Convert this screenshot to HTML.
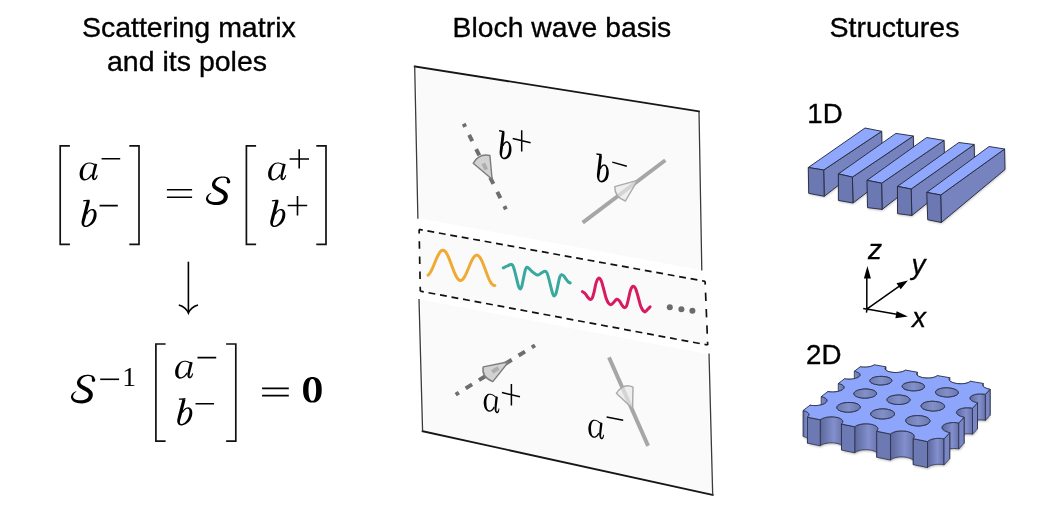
<!DOCTYPE html>
<html><head><meta charset="utf-8"><style>
html,body{margin:0;padding:0;background:#fff;}
body{width:1048px;height:510px;overflow:hidden;position:relative;}
svg{position:absolute;left:0;top:0;}
.t{font-family:"Liberation Sans",sans-serif;}
.m{font-family:"Liberation Serif",serif;font-style:italic;}
</style></head><body>
<svg width="1048" height="510" viewBox="0 0 1048 510" style="will-change:transform">
<defs>
<filter id="blur1" x="-10%" y="-10%" width="120%" height="130%"><feGaussianBlur stdDeviation="1.1"/></filter>
<linearGradient id="gw" x1="0" x2="1" y1="0" y2="0">
 <stop offset="0" stop-color="#5c679c"/><stop offset="0.6" stop-color="#8290cd"/><stop offset="1" stop-color="#6873ac"/>
</linearGradient>
<linearGradient id="gh" x1="0" x2="1" y1="0" y2="0">
 <stop offset="0" stop-color="#6d79b0"/><stop offset="0.5" stop-color="#8190c8"/><stop offset="1" stop-color="#6d79b0"/>
</linearGradient>
</defs>

<g class="t" font-size="28.5" fill="#000" stroke="#000" stroke-width="0.35">
<text x="81.9" y="36.6">Scattering matrix</text>
<text x="107" y="70.5">and its poles</text>
<text x="452.6" y="36.6" font-size="28.3">Bloch wave basis</text>
<text x="829.5" y="36.6">Structures</text>
</g>
<g class="t" font-size="27.7" fill="#000" stroke="#000" stroke-width="0.35"><text x="807.3" y="123.3">1D</text><text x="806" y="364.3">2D</text></g>
<path d="M69.9,145.8 H60.2 V244.4 H69.9" stroke="#111" stroke-width="1.7" fill="none"/>
<path d="M129.3,145.8 H139 V244.4 H129.3" stroke="#111" stroke-width="1.7" fill="none"/>
<path d="M256.1,145.8 H246.4 V244.4 H256.1" stroke="#111" stroke-width="1.7" fill="none"/>
<path d="M316.3,145.8 H326 V244.4 H316.3" stroke="#111" stroke-width="1.7" fill="none"/>
<g fill="#000">
<path d="M94.69,164.01 L94.52,163.95 L94.31,163.85 L94.06,163.73 L93.76,163.59 L93.45,163.45 L93.11,163.29 L92.76,163.15 L92.40,163.01 L92.04,162.90 L91.69,162.81 L91.37,162.74 L91.04,162.68 L90.70,162.63 L90.36,162.58 L90.02,162.56 L89.67,162.54 L89.31,162.54 L88.96,162.56 L88.61,162.60 L88.27,162.66 L87.92,162.71 L87.58,162.77 L87.22,162.84 L86.87,162.93 L86.51,163.04 L86.15,163.18 L85.78,163.34 L85.43,163.53 L85.07,163.75 L84.72,164.00 L84.36,164.26 L84.00,164.55 L83.64,164.88 L83.28,165.22 L82.93,165.59 L82.59,165.98 L82.27,166.38 L81.95,166.80 L81.65,167.23 L81.38,167.66 L81.13,168.12 L80.90,168.60 L80.69,169.09 L80.49,169.59 L80.31,170.10 L80.15,170.61 L80.00,171.12 L79.87,171.63 L79.76,172.13 L79.66,172.63 L79.63,173.13 L79.61,173.64 L79.62,174.14 L79.64,174.65 L79.68,175.14 L79.74,175.63 L79.81,176.11 L79.91,176.57 L80.02,177.02 L80.15,177.45 L80.36,177.84 L80.58,178.21 L80.82,178.56 L81.09,178.87 L81.36,179.16 L81.66,179.42 L81.96,179.65 L82.28,179.86 L82.60,180.03 L82.94,180.16 L83.28,180.29 L83.63,180.38 L83.98,180.43 L84.33,180.45 L84.68,180.45 L85.03,180.42 L85.37,180.37 L85.70,180.29 L86.03,180.20 L86.35,180.08 L86.69,179.99 L87.02,179.87 L87.35,179.73 L87.68,179.56 L88.01,179.38 L88.34,179.18 L88.66,178.97 L88.97,178.75 L89.28,178.52 L89.58,178.28 L89.94,177.97 L90.30,177.62 L90.65,177.24 L91.00,176.84 L91.33,176.46 L91.64,176.10 L91.91,175.77 L92.13,175.51 L92.31,175.32 L91.12,174.35 L90.96,174.57 L90.75,174.86 L90.50,175.20 L90.22,175.57 L89.93,175.96 L89.62,176.35 L89.32,176.71 L89.02,177.04 L88.74,177.32 L88.49,177.54 L88.22,177.75 L87.94,177.96 L87.67,178.16 L87.39,178.34 L87.11,178.51 L86.84,178.66 L86.57,178.79 L86.31,178.89 L86.05,178.98 L85.79,179.00 L85.53,179.00 L85.27,178.99 L85.02,178.96 L84.77,178.92 L84.55,178.86 L84.34,178.78 L84.15,178.70 L83.99,178.60 L83.86,178.49 L83.74,178.35 L83.63,178.19 L83.52,178.02 L83.42,177.84 L83.33,177.64 L83.26,177.43 L83.19,177.22 L83.14,176.99 L83.10,176.76 L83.07,176.51 L83.01,176.26 L82.96,175.96 L82.91,175.64 L82.88,175.29 L82.86,174.91 L82.85,174.53 L82.86,174.14 L82.88,173.74 L82.91,173.35 L82.96,172.97 L82.97,172.57 L82.99,172.15 L83.03,171.72 L83.08,171.28 L83.15,170.84 L83.24,170.40 L83.33,169.96 L83.44,169.54 L83.56,169.13 L83.69,168.74 L83.82,168.35 L83.97,167.95 L84.14,167.54 L84.33,167.14 L84.54,166.75 L84.75,166.37 L84.97,166.00 L85.20,165.66 L85.42,165.34 L85.65,165.06 L85.89,164.83 L86.14,164.62 L86.40,164.43 L86.67,164.26 L86.95,164.10 L87.24,163.96 L87.53,163.84 L87.83,163.73 L88.13,163.63 L88.43,163.54 L88.72,163.50 L89.02,163.48 L89.33,163.47 L89.63,163.48 L89.94,163.51 L90.24,163.55 L90.55,163.60 L90.85,163.66 L91.15,163.72 L91.43,163.80 L91.70,163.90 L91.99,164.03 L92.29,164.18 L92.59,164.35 L92.88,164.52 L93.17,164.69 L93.43,164.86 L93.67,165.02 L93.88,165.15 L94.05,165.26Z"/><path d="M94.60,163.56 L94.54,163.78 L94.47,164.07 L94.39,164.42 L94.30,164.80 L94.20,165.21 L94.10,165.65 L93.99,166.09 L93.88,166.54 L93.78,166.97 L93.68,167.37 L93.59,167.77 L93.49,168.17 L93.40,168.58 L93.30,168.99 L93.20,169.41 L93.10,169.83 L93.00,170.25 L92.90,170.66 L92.81,171.08 L92.72,171.48 L92.63,171.88 L92.54,172.28 L92.45,172.69 L92.36,173.09 L92.27,173.50 L92.19,173.90 L92.11,174.30 L92.05,174.69 L91.99,175.08 L91.94,175.45 L91.92,175.80 L91.90,176.13 L91.90,176.47 L91.90,176.79 L91.91,177.11 L91.93,177.43 L91.96,177.73 L92.01,178.03 L92.08,178.32 L92.17,178.60 L92.28,178.87 L92.42,179.12 L92.58,179.35 L92.77,179.56 L92.97,179.74 L93.20,179.90 L93.45,180.03 L93.72,180.12 L94.01,180.16 L94.31,180.15 L94.58,180.10 L94.83,180.01 L95.07,179.90 L95.30,179.77 L95.52,179.61 L95.74,179.43 L95.95,179.23 L96.15,179.02 L96.34,178.78 L96.52,178.52 L96.71,178.18 L96.88,177.80 L97.05,177.39 L97.20,176.96 L97.35,176.54 L97.48,176.13 L97.59,175.77 L97.68,175.48 L97.74,175.26 L96.91,174.93 L96.80,175.14 L96.67,175.43 L96.52,175.78 L96.35,176.16 L96.18,176.55 L96.00,176.93 L95.81,177.28 L95.64,177.57 L95.48,177.79 L95.34,177.93 L95.19,178.07 L95.03,178.19 L94.87,178.30 L94.72,178.38 L94.57,178.45 L94.44,178.49 L94.33,178.51 L94.25,178.51 L94.22,178.50 L94.23,178.48 L94.24,178.46 L94.24,178.44 L94.24,178.41 L94.22,178.38 L94.20,178.33 L94.17,178.26 L94.15,178.19 L94.13,178.10 L94.12,178.01 L94.11,177.90 L94.11,177.75 L94.11,177.58 L94.12,177.37 L94.14,177.14 L94.16,176.90 L94.20,176.63 L94.24,176.35 L94.29,176.06 L94.34,175.76 L94.39,175.45 L94.46,175.13 L94.53,174.79 L94.61,174.43 L94.70,174.05 L94.80,173.66 L94.90,173.27 L95.00,172.87 L95.10,172.47 L95.20,172.07 L95.30,171.68 L95.40,171.28 L95.51,170.88 L95.62,170.47 L95.73,170.06 L95.84,169.65 L95.95,169.23 L96.06,168.82 L96.17,168.42 L96.28,168.01 L96.38,167.60 L96.49,167.17 L96.59,166.72 L96.70,166.27 L96.81,165.84 L96.90,165.42 L97.00,165.04 L97.08,164.69 L97.15,164.40 L97.20,164.18Z"/><path d="M83.24,201.47 L85.16,201.37 L87.80,201.24 L89.71,201.15 L89.62,199.65 L87.71,199.80 L85.07,199.99 L83.16,200.13Z"/><path d="M86.88,200.56 L86.79,200.90 L86.67,201.33 L86.53,201.85 L86.37,202.42 L86.20,203.04 L86.03,203.69 L85.85,204.36 L85.67,205.02 L85.50,205.67 L85.33,206.27 L85.18,206.87 L85.03,207.46 L84.88,208.07 L84.72,208.67 L84.57,209.28 L84.41,209.89 L84.26,210.49 L84.10,211.09 L83.95,211.69 L83.80,212.27 L83.65,212.86 L83.50,213.45 L83.34,214.04 L83.18,214.64 L83.03,215.22 L82.88,215.80 L82.73,216.37 L82.59,216.92 L82.46,217.45 L82.33,217.94 L82.23,218.41 L82.13,218.85 L82.02,219.28 L81.92,219.70 L81.83,220.12 L81.73,220.54 L81.65,220.96 L81.59,221.39 L81.54,221.82 L81.52,222.24 L81.54,222.63 L81.58,223.02 L81.63,223.39 L81.70,223.77 L81.79,224.14 L81.90,224.50 L82.04,224.85 L82.22,225.19 L82.43,225.51 L82.67,225.80 L82.93,226.06 L83.22,226.29 L83.52,226.48 L83.84,226.65 L84.18,226.80 L84.54,226.91 L84.90,226.99 L85.28,227.03 L85.66,227.04 L86.04,227.00 L86.43,226.98 L86.83,226.92 L87.25,226.83 L87.67,226.72 L88.09,226.57 L88.52,226.41 L88.95,226.22 L89.37,226.01 L89.79,225.79 L90.19,225.55 L90.59,225.31 L91.00,225.05 L91.41,224.77 L91.82,224.46 L92.23,224.13 L92.63,223.79 L93.03,223.42 L93.41,223.03 L93.77,222.62 L94.12,222.19 L94.42,221.73 L94.71,221.24 L94.97,220.73 L95.22,220.22 L95.45,219.69 L95.66,219.17 L95.86,218.65 L96.03,218.13 L96.19,217.63 L96.33,217.14 L96.42,216.64 L96.49,216.14 L96.54,215.64 L96.57,215.15 L96.59,214.66 L96.58,214.19 L96.56,213.73 L96.52,213.28 L96.46,212.85 L96.38,212.43 L96.25,212.03 L96.10,211.65 L95.93,211.29 L95.74,210.94 L95.53,210.62 L95.30,210.32 L95.05,210.04 L94.78,209.79 L94.50,209.57 L94.19,209.38 L93.87,209.22 L93.53,209.10 L93.19,209.02 L92.85,208.97 L92.50,208.95 L92.16,208.95 L91.81,208.99 L91.48,209.04 L91.15,209.13 L90.83,209.24 L90.51,209.35 L90.19,209.50 L89.87,209.68 L89.56,209.88 L89.26,210.09 L88.96,210.32 L88.68,210.55 L88.41,210.79 L88.16,211.02 L87.91,211.26 L87.65,211.55 L87.40,211.87 L87.16,212.21 L86.94,212.55 L86.74,212.87 L86.56,213.18 L86.40,213.44 L86.27,213.66 L86.17,213.82 L87.16,214.44 L87.27,214.27 L87.41,214.03 L87.56,213.77 L87.74,213.47 L87.93,213.17 L88.12,212.86 L88.33,212.57 L88.54,212.30 L88.75,212.07 L88.96,211.87 L89.19,211.65 L89.44,211.44 L89.69,211.23 L89.95,211.03 L90.21,210.84 L90.47,210.68 L90.71,210.54 L90.95,210.44 L91.17,210.36 L91.39,210.34 L91.63,210.34 L91.87,210.35 L92.10,210.39 L92.32,210.44 L92.54,210.50 L92.73,210.59 L92.90,210.68 L93.03,210.78 L93.14,210.88 L93.23,211.01 L93.32,211.16 L93.41,211.32 L93.49,211.51 L93.56,211.71 L93.62,211.92 L93.68,212.15 L93.72,212.39 L93.74,212.65 L93.75,212.90 L93.78,213.18 L93.79,213.49 L93.79,213.82 L93.78,214.17 L93.76,214.54 L93.71,214.91 L93.66,215.30 L93.59,215.69 L93.51,216.07 L93.41,216.46 L93.32,216.87 L93.22,217.31 L93.10,217.76 L92.96,218.22 L92.81,218.67 L92.64,219.12 L92.47,219.56 L92.28,219.98 L92.08,220.38 L91.88,220.74 L91.68,221.10 L91.46,221.47 L91.21,221.82 L90.94,222.18 L90.66,222.52 L90.37,222.86 L90.06,223.18 L89.76,223.49 L89.45,223.78 L89.14,224.05 L88.83,224.29 L88.50,224.52 L88.16,224.73 L87.82,224.93 L87.47,225.12 L87.13,225.28 L86.81,225.42 L86.50,225.53 L86.21,225.61 L85.96,225.67 L85.72,225.64 L85.50,225.58 L85.29,225.50 L85.08,225.40 L84.89,225.29 L84.72,225.16 L84.57,225.02 L84.44,224.88 L84.34,224.73 L84.26,224.60 L84.23,224.47 L84.20,224.32 L84.18,224.16 L84.18,223.97 L84.18,223.76 L84.19,223.52 L84.21,223.27 L84.25,223.00 L84.29,222.71 L84.35,222.43 L84.39,222.16 L84.45,221.88 L84.52,221.58 L84.62,221.25 L84.72,220.89 L84.85,220.51 L84.98,220.10 L85.12,219.67 L85.26,219.21 L85.40,218.72 L85.53,218.22 L85.66,217.70 L85.80,217.16 L85.94,216.60 L86.09,216.03 L86.25,215.44 L86.40,214.84 L86.56,214.25 L86.71,213.65 L86.87,213.06 L87.02,212.47 L87.17,211.88 L87.32,211.27 L87.48,210.67 L87.63,210.06 L87.79,209.45 L87.94,208.85 L88.10,208.25 L88.25,207.65 L88.40,207.06 L88.55,206.45 L88.71,205.80 L88.87,205.13 L89.03,204.46 L89.19,203.81 L89.34,203.18 L89.48,202.60 L89.60,202.08 L89.71,201.65 L89.79,201.31Z"/>
<path d="M283.19,164.01 L283.02,163.95 L282.81,163.85 L282.56,163.73 L282.26,163.59 L281.95,163.45 L281.61,163.29 L281.26,163.15 L280.90,163.01 L280.54,162.90 L280.19,162.81 L279.87,162.74 L279.54,162.68 L279.20,162.63 L278.86,162.58 L278.52,162.56 L278.17,162.54 L277.81,162.54 L277.46,162.56 L277.11,162.60 L276.77,162.66 L276.42,162.71 L276.08,162.77 L275.72,162.84 L275.37,162.93 L275.01,163.04 L274.65,163.18 L274.28,163.34 L273.93,163.53 L273.57,163.75 L273.22,164.00 L272.86,164.26 L272.50,164.55 L272.14,164.88 L271.78,165.22 L271.43,165.59 L271.09,165.98 L270.77,166.38 L270.45,166.80 L270.15,167.23 L269.88,167.66 L269.63,168.12 L269.40,168.60 L269.19,169.09 L268.99,169.59 L268.81,170.10 L268.65,170.61 L268.50,171.12 L268.37,171.63 L268.26,172.13 L268.16,172.63 L268.13,173.13 L268.11,173.64 L268.12,174.14 L268.14,174.65 L268.18,175.14 L268.24,175.63 L268.31,176.11 L268.41,176.57 L268.52,177.02 L268.65,177.45 L268.86,177.84 L269.08,178.21 L269.32,178.56 L269.59,178.87 L269.86,179.16 L270.16,179.42 L270.46,179.65 L270.78,179.86 L271.10,180.03 L271.44,180.16 L271.78,180.29 L272.13,180.38 L272.48,180.43 L272.83,180.45 L273.18,180.45 L273.53,180.42 L273.87,180.37 L274.20,180.29 L274.53,180.20 L274.85,180.08 L275.19,179.99 L275.52,179.87 L275.85,179.73 L276.18,179.56 L276.51,179.38 L276.84,179.18 L277.16,178.97 L277.47,178.75 L277.78,178.52 L278.08,178.28 L278.44,177.97 L278.80,177.62 L279.15,177.24 L279.50,176.84 L279.83,176.46 L280.14,176.10 L280.41,175.77 L280.63,175.51 L280.81,175.32 L279.62,174.35 L279.46,174.57 L279.25,174.86 L279.00,175.20 L278.72,175.57 L278.43,175.96 L278.12,176.35 L277.82,176.71 L277.52,177.04 L277.24,177.32 L276.99,177.54 L276.72,177.75 L276.44,177.96 L276.17,178.16 L275.89,178.34 L275.61,178.51 L275.34,178.66 L275.07,178.79 L274.81,178.89 L274.55,178.98 L274.29,179.00 L274.03,179.00 L273.77,178.99 L273.52,178.96 L273.27,178.92 L273.05,178.86 L272.84,178.78 L272.65,178.70 L272.49,178.60 L272.36,178.49 L272.24,178.35 L272.13,178.19 L272.02,178.02 L271.92,177.84 L271.83,177.64 L271.76,177.43 L271.69,177.22 L271.64,176.99 L271.60,176.76 L271.57,176.51 L271.51,176.26 L271.46,175.96 L271.41,175.64 L271.38,175.29 L271.36,174.91 L271.35,174.53 L271.36,174.14 L271.38,173.74 L271.41,173.35 L271.46,172.97 L271.47,172.57 L271.49,172.15 L271.53,171.72 L271.58,171.28 L271.65,170.84 L271.74,170.40 L271.83,169.96 L271.94,169.54 L272.06,169.13 L272.19,168.74 L272.32,168.35 L272.47,167.95 L272.64,167.54 L272.83,167.14 L273.04,166.75 L273.25,166.37 L273.47,166.00 L273.70,165.66 L273.92,165.34 L274.15,165.06 L274.39,164.83 L274.64,164.62 L274.90,164.43 L275.17,164.26 L275.45,164.10 L275.74,163.96 L276.03,163.84 L276.33,163.73 L276.63,163.63 L276.93,163.54 L277.22,163.50 L277.52,163.48 L277.83,163.47 L278.13,163.48 L278.44,163.51 L278.74,163.55 L279.05,163.60 L279.35,163.66 L279.65,163.72 L279.93,163.80 L280.20,163.90 L280.49,164.03 L280.79,164.18 L281.09,164.35 L281.38,164.52 L281.67,164.69 L281.93,164.86 L282.17,165.02 L282.38,165.15 L282.55,165.26Z"/><path d="M283.10,163.56 L283.04,163.78 L282.97,164.07 L282.89,164.42 L282.80,164.80 L282.70,165.21 L282.60,165.65 L282.49,166.09 L282.38,166.54 L282.28,166.97 L282.18,167.37 L282.09,167.77 L281.99,168.17 L281.90,168.58 L281.80,168.99 L281.70,169.41 L281.60,169.83 L281.50,170.25 L281.40,170.66 L281.31,171.08 L281.22,171.48 L281.13,171.88 L281.04,172.28 L280.95,172.69 L280.86,173.09 L280.77,173.50 L280.69,173.90 L280.61,174.30 L280.55,174.69 L280.49,175.08 L280.44,175.45 L280.42,175.80 L280.40,176.13 L280.40,176.47 L280.40,176.79 L280.41,177.11 L280.43,177.43 L280.46,177.73 L280.51,178.03 L280.58,178.32 L280.67,178.60 L280.78,178.87 L280.92,179.12 L281.08,179.35 L281.27,179.56 L281.47,179.74 L281.70,179.90 L281.95,180.03 L282.22,180.12 L282.51,180.16 L282.81,180.15 L283.08,180.10 L283.33,180.01 L283.57,179.90 L283.80,179.77 L284.02,179.61 L284.24,179.43 L284.45,179.23 L284.65,179.02 L284.84,178.78 L285.02,178.52 L285.21,178.18 L285.38,177.80 L285.55,177.39 L285.70,176.96 L285.85,176.54 L285.98,176.13 L286.09,175.77 L286.18,175.48 L286.24,175.26 L285.41,174.93 L285.30,175.14 L285.17,175.43 L285.02,175.78 L284.85,176.16 L284.68,176.55 L284.50,176.93 L284.31,177.28 L284.14,177.57 L283.98,177.79 L283.84,177.93 L283.69,178.07 L283.53,178.19 L283.37,178.30 L283.22,178.38 L283.07,178.45 L282.94,178.49 L282.83,178.51 L282.75,178.51 L282.72,178.50 L282.73,178.48 L282.74,178.46 L282.74,178.44 L282.74,178.41 L282.72,178.38 L282.70,178.33 L282.67,178.26 L282.65,178.19 L282.63,178.10 L282.62,178.01 L282.61,177.90 L282.61,177.75 L282.61,177.58 L282.62,177.37 L282.64,177.14 L282.66,176.90 L282.70,176.63 L282.74,176.35 L282.79,176.06 L282.84,175.76 L282.89,175.45 L282.96,175.13 L283.03,174.79 L283.11,174.43 L283.20,174.05 L283.30,173.66 L283.40,173.27 L283.50,172.87 L283.60,172.47 L283.70,172.07 L283.80,171.68 L283.90,171.28 L284.01,170.88 L284.12,170.47 L284.23,170.06 L284.34,169.65 L284.45,169.23 L284.56,168.82 L284.67,168.42 L284.78,168.01 L284.88,167.60 L284.99,167.17 L285.09,166.72 L285.20,166.27 L285.31,165.84 L285.40,165.42 L285.50,165.04 L285.58,164.69 L285.65,164.40 L285.70,164.18Z"/><path d="M271.94,201.47 L273.86,201.37 L276.50,201.24 L278.41,201.15 L278.32,199.65 L276.41,199.80 L273.77,199.99 L271.86,200.13Z"/><path d="M275.58,200.56 L275.49,200.90 L275.37,201.33 L275.23,201.85 L275.07,202.42 L274.90,203.04 L274.73,203.69 L274.55,204.36 L274.37,205.02 L274.20,205.67 L274.03,206.27 L273.88,206.87 L273.73,207.46 L273.58,208.07 L273.42,208.67 L273.27,209.28 L273.11,209.89 L272.96,210.49 L272.80,211.09 L272.65,211.69 L272.50,212.27 L272.35,212.86 L272.20,213.45 L272.04,214.04 L271.88,214.64 L271.73,215.22 L271.58,215.80 L271.43,216.37 L271.29,216.92 L271.16,217.45 L271.03,217.94 L270.93,218.41 L270.83,218.85 L270.72,219.28 L270.62,219.70 L270.53,220.12 L270.43,220.54 L270.35,220.96 L270.29,221.39 L270.24,221.82 L270.22,222.24 L270.24,222.63 L270.28,223.02 L270.33,223.39 L270.40,223.77 L270.49,224.14 L270.60,224.50 L270.74,224.85 L270.92,225.19 L271.13,225.51 L271.37,225.80 L271.63,226.06 L271.92,226.29 L272.22,226.48 L272.54,226.65 L272.88,226.80 L273.24,226.91 L273.60,226.99 L273.98,227.03 L274.36,227.04 L274.74,227.00 L275.13,226.98 L275.53,226.92 L275.95,226.83 L276.37,226.72 L276.79,226.57 L277.22,226.41 L277.65,226.22 L278.07,226.01 L278.49,225.79 L278.89,225.55 L279.29,225.31 L279.70,225.05 L280.11,224.77 L280.52,224.46 L280.93,224.13 L281.33,223.79 L281.73,223.42 L282.11,223.03 L282.47,222.62 L282.82,222.19 L283.12,221.73 L283.41,221.24 L283.67,220.73 L283.92,220.22 L284.15,219.69 L284.36,219.17 L284.56,218.65 L284.73,218.13 L284.89,217.63 L285.03,217.14 L285.12,216.64 L285.19,216.14 L285.24,215.64 L285.27,215.15 L285.29,214.66 L285.28,214.19 L285.26,213.73 L285.22,213.28 L285.16,212.85 L285.08,212.43 L284.95,212.03 L284.80,211.65 L284.63,211.29 L284.44,210.94 L284.23,210.62 L284.00,210.32 L283.75,210.04 L283.48,209.79 L283.20,209.57 L282.89,209.38 L282.57,209.22 L282.23,209.10 L281.89,209.02 L281.55,208.97 L281.20,208.95 L280.86,208.95 L280.51,208.99 L280.18,209.04 L279.85,209.13 L279.53,209.24 L279.21,209.35 L278.89,209.50 L278.57,209.68 L278.26,209.88 L277.96,210.09 L277.66,210.32 L277.38,210.55 L277.11,210.79 L276.86,211.02 L276.61,211.26 L276.35,211.55 L276.10,211.87 L275.86,212.21 L275.64,212.55 L275.44,212.87 L275.26,213.18 L275.10,213.44 L274.97,213.66 L274.87,213.82 L275.86,214.44 L275.97,214.27 L276.11,214.03 L276.26,213.77 L276.44,213.47 L276.63,213.17 L276.82,212.86 L277.03,212.57 L277.24,212.30 L277.45,212.07 L277.66,211.87 L277.89,211.65 L278.14,211.44 L278.39,211.23 L278.65,211.03 L278.91,210.84 L279.17,210.68 L279.41,210.54 L279.65,210.44 L279.87,210.36 L280.09,210.34 L280.33,210.34 L280.57,210.35 L280.80,210.39 L281.02,210.44 L281.24,210.50 L281.43,210.59 L281.60,210.68 L281.73,210.78 L281.84,210.88 L281.93,211.01 L282.02,211.16 L282.11,211.32 L282.19,211.51 L282.26,211.71 L282.32,211.92 L282.38,212.15 L282.42,212.39 L282.44,212.65 L282.45,212.90 L282.48,213.18 L282.49,213.49 L282.49,213.82 L282.48,214.17 L282.46,214.54 L282.41,214.91 L282.36,215.30 L282.29,215.69 L282.21,216.07 L282.11,216.46 L282.02,216.87 L281.92,217.31 L281.80,217.76 L281.66,218.22 L281.51,218.67 L281.34,219.12 L281.17,219.56 L280.98,219.98 L280.78,220.38 L280.58,220.74 L280.38,221.10 L280.16,221.47 L279.91,221.82 L279.64,222.18 L279.36,222.52 L279.07,222.86 L278.76,223.18 L278.46,223.49 L278.15,223.78 L277.84,224.05 L277.53,224.29 L277.20,224.52 L276.86,224.73 L276.52,224.93 L276.17,225.12 L275.83,225.28 L275.51,225.42 L275.20,225.53 L274.91,225.61 L274.66,225.67 L274.42,225.64 L274.20,225.58 L273.99,225.50 L273.78,225.40 L273.59,225.29 L273.42,225.16 L273.27,225.02 L273.14,224.88 L273.04,224.73 L272.96,224.60 L272.93,224.47 L272.90,224.32 L272.88,224.16 L272.88,223.97 L272.88,223.76 L272.89,223.52 L272.91,223.27 L272.95,223.00 L272.99,222.71 L273.05,222.43 L273.09,222.16 L273.15,221.88 L273.22,221.58 L273.32,221.25 L273.42,220.89 L273.55,220.51 L273.68,220.10 L273.82,219.67 L273.96,219.21 L274.10,218.72 L274.23,218.22 L274.36,217.70 L274.50,217.16 L274.64,216.60 L274.79,216.03 L274.95,215.44 L275.10,214.84 L275.26,214.25 L275.41,213.65 L275.57,213.06 L275.72,212.47 L275.87,211.88 L276.02,211.27 L276.18,210.67 L276.33,210.06 L276.49,209.45 L276.64,208.85 L276.80,208.25 L276.95,207.65 L277.10,207.06 L277.25,206.45 L277.41,205.80 L277.57,205.13 L277.73,204.46 L277.89,203.81 L278.04,203.18 L278.18,202.60 L278.30,202.08 L278.41,201.65 L278.49,201.31Z"/>
<path d="M190.19,362.21 L190.02,362.15 L189.81,362.05 L189.56,361.93 L189.26,361.79 L188.95,361.65 L188.61,361.49 L188.26,361.35 L187.90,361.21 L187.54,361.10 L187.19,361.01 L186.87,360.94 L186.54,360.88 L186.20,360.83 L185.86,360.78 L185.52,360.76 L185.17,360.74 L184.81,360.74 L184.46,360.76 L184.11,360.80 L183.77,360.86 L183.42,360.91 L183.08,360.97 L182.72,361.04 L182.37,361.13 L182.01,361.24 L181.65,361.38 L181.28,361.54 L180.93,361.73 L180.57,361.95 L180.22,362.20 L179.86,362.46 L179.50,362.75 L179.14,363.08 L178.78,363.42 L178.43,363.79 L178.09,364.18 L177.77,364.58 L177.45,365.00 L177.15,365.43 L176.88,365.86 L176.63,366.32 L176.40,366.80 L176.19,367.29 L175.99,367.79 L175.81,368.30 L175.65,368.81 L175.50,369.32 L175.37,369.83 L175.26,370.33 L175.16,370.83 L175.13,371.33 L175.11,371.84 L175.12,372.34 L175.14,372.85 L175.18,373.34 L175.24,373.83 L175.31,374.31 L175.41,374.77 L175.52,375.22 L175.65,375.65 L175.86,376.04 L176.08,376.41 L176.32,376.76 L176.59,377.07 L176.86,377.36 L177.16,377.62 L177.46,377.85 L177.78,378.06 L178.10,378.23 L178.44,378.36 L178.78,378.49 L179.13,378.58 L179.48,378.63 L179.83,378.65 L180.18,378.65 L180.53,378.62 L180.87,378.57 L181.20,378.49 L181.53,378.40 L181.85,378.28 L182.19,378.19 L182.52,378.07 L182.85,377.93 L183.18,377.76 L183.51,377.58 L183.84,377.38 L184.16,377.17 L184.47,376.95 L184.78,376.72 L185.08,376.48 L185.44,376.17 L185.80,375.82 L186.15,375.44 L186.50,375.04 L186.83,374.66 L187.14,374.30 L187.41,373.97 L187.63,373.71 L187.81,373.52 L186.62,372.55 L186.46,372.77 L186.25,373.06 L186.00,373.40 L185.72,373.77 L185.43,374.16 L185.12,374.55 L184.82,374.91 L184.52,375.24 L184.24,375.52 L183.99,375.74 L183.72,375.95 L183.44,376.16 L183.17,376.36 L182.89,376.54 L182.61,376.71 L182.34,376.86 L182.07,376.99 L181.81,377.09 L181.55,377.18 L181.29,377.20 L181.03,377.20 L180.77,377.19 L180.52,377.16 L180.27,377.12 L180.05,377.06 L179.84,376.98 L179.65,376.90 L179.49,376.80 L179.36,376.69 L179.24,376.55 L179.13,376.39 L179.02,376.22 L178.92,376.04 L178.83,375.84 L178.76,375.63 L178.69,375.42 L178.64,375.19 L178.60,374.96 L178.57,374.71 L178.51,374.46 L178.46,374.16 L178.41,373.84 L178.38,373.49 L178.36,373.11 L178.35,372.73 L178.36,372.34 L178.38,371.94 L178.41,371.55 L178.46,371.17 L178.47,370.77 L178.49,370.35 L178.53,369.92 L178.58,369.48 L178.65,369.04 L178.74,368.60 L178.83,368.16 L178.94,367.74 L179.06,367.33 L179.19,366.94 L179.32,366.55 L179.47,366.15 L179.64,365.74 L179.83,365.34 L180.04,364.95 L180.25,364.57 L180.47,364.20 L180.70,363.86 L180.92,363.54 L181.15,363.26 L181.39,363.03 L181.64,362.82 L181.90,362.63 L182.17,362.46 L182.45,362.30 L182.74,362.16 L183.03,362.04 L183.33,361.93 L183.63,361.83 L183.93,361.74 L184.22,361.70 L184.52,361.68 L184.83,361.67 L185.13,361.68 L185.44,361.71 L185.74,361.75 L186.05,361.80 L186.35,361.86 L186.65,361.92 L186.93,362.00 L187.20,362.10 L187.49,362.23 L187.79,362.38 L188.09,362.55 L188.38,362.72 L188.67,362.89 L188.93,363.06 L189.17,363.22 L189.38,363.35 L189.55,363.46Z"/><path d="M190.10,361.76 L190.04,361.98 L189.97,362.27 L189.89,362.62 L189.80,363.00 L189.70,363.41 L189.60,363.85 L189.49,364.29 L189.38,364.74 L189.28,365.17 L189.18,365.57 L189.09,365.97 L188.99,366.37 L188.90,366.78 L188.80,367.19 L188.70,367.61 L188.60,368.03 L188.50,368.45 L188.40,368.86 L188.31,369.28 L188.22,369.68 L188.13,370.08 L188.04,370.48 L187.95,370.89 L187.86,371.29 L187.77,371.70 L187.69,372.10 L187.61,372.50 L187.55,372.89 L187.49,373.28 L187.44,373.65 L187.42,374.00 L187.40,374.33 L187.40,374.67 L187.40,374.99 L187.41,375.31 L187.43,375.63 L187.46,375.93 L187.51,376.23 L187.58,376.52 L187.67,376.80 L187.78,377.07 L187.92,377.32 L188.08,377.55 L188.27,377.76 L188.47,377.94 L188.70,378.10 L188.95,378.23 L189.22,378.32 L189.51,378.36 L189.81,378.35 L190.08,378.30 L190.33,378.21 L190.57,378.10 L190.80,377.97 L191.02,377.81 L191.24,377.63 L191.45,377.43 L191.65,377.22 L191.84,376.98 L192.02,376.72 L192.21,376.38 L192.38,376.00 L192.55,375.59 L192.70,375.16 L192.85,374.74 L192.98,374.33 L193.09,373.97 L193.18,373.68 L193.24,373.46 L192.41,373.13 L192.30,373.34 L192.17,373.63 L192.02,373.98 L191.85,374.36 L191.68,374.75 L191.50,375.13 L191.31,375.48 L191.14,375.77 L190.98,375.99 L190.84,376.13 L190.69,376.27 L190.53,376.39 L190.37,376.50 L190.22,376.58 L190.07,376.65 L189.94,376.69 L189.83,376.71 L189.75,376.71 L189.72,376.70 L189.73,376.68 L189.74,376.66 L189.74,376.64 L189.74,376.61 L189.72,376.58 L189.70,376.53 L189.67,376.46 L189.65,376.39 L189.63,376.30 L189.62,376.21 L189.61,376.10 L189.61,375.95 L189.61,375.78 L189.62,375.57 L189.64,375.34 L189.66,375.10 L189.70,374.83 L189.74,374.55 L189.79,374.26 L189.84,373.96 L189.89,373.65 L189.96,373.33 L190.03,372.99 L190.11,372.63 L190.20,372.25 L190.30,371.86 L190.40,371.47 L190.50,371.07 L190.60,370.67 L190.70,370.27 L190.80,369.88 L190.90,369.48 L191.01,369.08 L191.12,368.67 L191.23,368.26 L191.34,367.85 L191.45,367.43 L191.56,367.02 L191.67,366.62 L191.78,366.21 L191.88,365.80 L191.99,365.37 L192.09,364.92 L192.20,364.47 L192.31,364.04 L192.40,363.62 L192.50,363.24 L192.58,362.89 L192.65,362.60 L192.70,362.38Z"/><path d="M178.94,399.87 L180.86,399.77 L183.50,399.64 L185.41,399.55 L185.32,398.05 L183.41,398.20 L180.77,398.39 L178.86,398.53Z"/><path d="M182.58,398.96 L182.49,399.30 L182.37,399.73 L182.23,400.25 L182.07,400.82 L181.90,401.44 L181.73,402.09 L181.55,402.76 L181.37,403.42 L181.20,404.07 L181.03,404.67 L180.88,405.27 L180.73,405.86 L180.58,406.47 L180.42,407.07 L180.27,407.68 L180.11,408.29 L179.96,408.89 L179.80,409.49 L179.65,410.09 L179.50,410.67 L179.35,411.26 L179.20,411.85 L179.04,412.44 L178.88,413.04 L178.73,413.62 L178.58,414.20 L178.43,414.77 L178.29,415.32 L178.16,415.85 L178.03,416.34 L177.93,416.81 L177.83,417.25 L177.72,417.68 L177.62,418.10 L177.53,418.52 L177.43,418.94 L177.35,419.36 L177.29,419.79 L177.24,420.22 L177.22,420.64 L177.24,421.03 L177.28,421.42 L177.33,421.79 L177.40,422.17 L177.49,422.54 L177.60,422.90 L177.74,423.25 L177.92,423.59 L178.13,423.91 L178.37,424.20 L178.63,424.46 L178.92,424.69 L179.22,424.88 L179.54,425.05 L179.88,425.20 L180.24,425.31 L180.60,425.39 L180.98,425.43 L181.36,425.44 L181.74,425.40 L182.13,425.38 L182.53,425.32 L182.95,425.23 L183.37,425.12 L183.79,424.97 L184.22,424.81 L184.65,424.62 L185.07,424.41 L185.49,424.19 L185.89,423.95 L186.29,423.71 L186.70,423.45 L187.11,423.17 L187.52,422.86 L187.93,422.53 L188.33,422.19 L188.73,421.82 L189.11,421.43 L189.47,421.02 L189.82,420.59 L190.12,420.13 L190.41,419.64 L190.67,419.13 L190.92,418.62 L191.15,418.09 L191.36,417.57 L191.56,417.05 L191.73,416.53 L191.89,416.03 L192.03,415.54 L192.12,415.04 L192.19,414.54 L192.24,414.04 L192.27,413.55 L192.29,413.06 L192.28,412.59 L192.26,412.13 L192.22,411.68 L192.16,411.25 L192.08,410.83 L191.95,410.43 L191.80,410.05 L191.63,409.69 L191.44,409.34 L191.23,409.02 L191.00,408.72 L190.75,408.44 L190.48,408.19 L190.20,407.97 L189.89,407.78 L189.57,407.62 L189.23,407.50 L188.89,407.42 L188.55,407.37 L188.20,407.35 L187.86,407.35 L187.51,407.39 L187.18,407.44 L186.85,407.53 L186.53,407.64 L186.21,407.75 L185.89,407.90 L185.57,408.08 L185.26,408.28 L184.96,408.49 L184.66,408.72 L184.38,408.95 L184.11,409.19 L183.86,409.42 L183.61,409.66 L183.35,409.95 L183.10,410.27 L182.86,410.61 L182.64,410.95 L182.44,411.27 L182.26,411.58 L182.10,411.84 L181.97,412.06 L181.87,412.22 L182.86,412.84 L182.97,412.67 L183.11,412.43 L183.26,412.17 L183.44,411.87 L183.63,411.57 L183.82,411.26 L184.03,410.97 L184.24,410.70 L184.45,410.47 L184.66,410.27 L184.89,410.05 L185.14,409.84 L185.39,409.63 L185.65,409.43 L185.91,409.24 L186.17,409.08 L186.41,408.94 L186.65,408.84 L186.87,408.76 L187.09,408.74 L187.33,408.74 L187.57,408.75 L187.80,408.79 L188.02,408.84 L188.24,408.90 L188.43,408.99 L188.60,409.08 L188.73,409.18 L188.84,409.28 L188.93,409.41 L189.02,409.56 L189.11,409.72 L189.19,409.91 L189.26,410.11 L189.32,410.32 L189.38,410.55 L189.42,410.79 L189.44,411.05 L189.45,411.30 L189.48,411.58 L189.49,411.89 L189.49,412.22 L189.48,412.57 L189.46,412.94 L189.41,413.31 L189.36,413.70 L189.29,414.09 L189.21,414.47 L189.11,414.86 L189.02,415.27 L188.92,415.71 L188.80,416.16 L188.66,416.62 L188.51,417.07 L188.34,417.52 L188.17,417.96 L187.98,418.38 L187.78,418.78 L187.58,419.14 L187.38,419.50 L187.16,419.87 L186.91,420.22 L186.64,420.58 L186.36,420.92 L186.07,421.26 L185.76,421.58 L185.46,421.89 L185.15,422.18 L184.84,422.45 L184.53,422.69 L184.20,422.92 L183.86,423.13 L183.52,423.33 L183.17,423.52 L182.83,423.68 L182.51,423.82 L182.20,423.93 L181.91,424.01 L181.66,424.07 L181.42,424.04 L181.20,423.98 L180.99,423.90 L180.78,423.80 L180.59,423.69 L180.42,423.56 L180.27,423.42 L180.14,423.28 L180.04,423.13 L179.96,423.00 L179.93,422.87 L179.90,422.72 L179.88,422.56 L179.88,422.37 L179.88,422.16 L179.89,421.92 L179.91,421.67 L179.95,421.40 L179.99,421.11 L180.05,420.83 L180.09,420.56 L180.15,420.28 L180.22,419.98 L180.32,419.65 L180.42,419.29 L180.55,418.91 L180.68,418.50 L180.82,418.07 L180.96,417.61 L181.10,417.12 L181.23,416.62 L181.36,416.10 L181.50,415.56 L181.64,415.00 L181.79,414.43 L181.95,413.84 L182.10,413.24 L182.26,412.65 L182.41,412.05 L182.57,411.46 L182.72,410.87 L182.87,410.28 L183.02,409.67 L183.18,409.07 L183.33,408.46 L183.49,407.85 L183.64,407.25 L183.80,406.65 L183.95,406.05 L184.10,405.46 L184.25,404.85 L184.41,404.20 L184.57,403.53 L184.73,402.86 L184.89,402.21 L185.04,401.58 L185.18,401.00 L185.30,400.48 L185.41,400.05 L185.49,399.71Z"/>
</g>
<path d="M101.6,158.7H120.2 M99.6,205.6H117.8" stroke="#000" stroke-width="1.6" stroke-width="1.9"/>
<path d="M289.6,159H309 M299.2,149.3V168.6 M287.7,205.5H307.2 M297.5,196V215.4" stroke="#000" stroke-width="1.6"/>
<path d="M166.9,189.8H192.1 M166.9,197.2H192.1" stroke="#000" stroke-width="1.6" stroke-width="1.8"/>
<path d="M188.4,261.7V312" stroke="#000" stroke-width="1.6"/>
<path d="M178.8,304.9 Q186,307 188.4,313 Q190.8,307 198,304.9" stroke="#000" stroke-width="1.6" fill="none"/>
<path d="M165.6,344 H155.9 V441.2 H165.6" stroke="#111" stroke-width="1.7" fill="none"/>
<path d="M226.1,344 H235.8 V441.2 H226.1" stroke="#111" stroke-width="1.7" fill="none"/>
<path d="M197.5,357.6H216.2 M195.5,403.8H214" stroke="#000" stroke-width="1.6" stroke-width="1.9"/>
<path d="M100.2,379.3H119.1" stroke="#000" stroke-width="1.6" stroke-width="1.45"/>
<path d="M262.1,388.4H288.8 M262.1,395.6H288.8" stroke="#000" stroke-width="1.6" stroke-width="1.8"/>
<text x="122.2" y="386.3" font-family="Liberation Serif" font-size="27.5">1</text>
<path d="M321.7,389.8 L321.67,391.47 L321.58,392.76 L321.44,393.93 L321.23,395.01 L320.97,396.02 L320.65,396.96 L320.28,397.82 L319.85,398.62 L319.37,399.35 L318.83,400.01 L318.25,400.6 L317.62,401.11 L316.94,401.55 L316.2,401.91 L315.42,402.19 L314.56,402.39 L313.62,402.51 L312.4,402.55 L311.18,402.51 L310.24,402.39 L309.38,402.19 L308.6,401.91 L307.86,401.55 L307.18,401.11 L306.55,400.6 L305.97,400.01 L305.43,399.35 L304.95,398.62 L304.52,397.82 L304.15,396.96 L303.83,396.02 L303.57,395.01 L303.36,393.93 L303.22,392.76 L303.13,391.47 L303.1,389.8 L303.13,388.13 L303.22,386.84 L303.36,385.67 L303.57,384.59 L303.83,383.58 L304.15,382.64 L304.52,381.78 L304.95,380.98 L305.43,380.25 L305.97,379.59 L306.55,379 L307.18,378.49 L307.86,378.05 L308.6,377.69 L309.38,377.41 L310.24,377.21 L311.18,377.09 L312.4,377.05 L313.62,377.09 L314.56,377.21 L315.42,377.41 L316.2,377.69 L316.94,378.05 L317.62,378.49 L318.25,379 L318.83,379.59 L319.37,380.25 L319.85,380.98 L320.28,381.78 L320.65,382.64 L320.97,383.58 L321.23,384.59 L321.44,385.67 L321.58,386.84 L321.67,388.13ZM316.1,389.9 L316.09,391.21 L316.05,392.28 L315.99,393.27 L315.9,394.19 L315.79,395.05 L315.65,395.87 L315.49,396.62 L315.31,397.32 L315.11,397.96 L314.89,398.55 L314.64,399.06 L314.38,399.52 L314.1,399.91 L313.79,400.23 L313.47,400.48 L313.13,400.66 L312.76,400.76 L312.3,400.8 L311.84,400.76 L311.47,400.66 L311.13,400.48 L310.81,400.23 L310.5,399.91 L310.22,399.52 L309.96,399.06 L309.71,398.55 L309.49,397.96 L309.29,397.32 L309.11,396.62 L308.95,395.87 L308.81,395.05 L308.7,394.19 L308.61,393.27 L308.55,392.28 L308.51,391.21 L308.5,389.9 L308.51,388.59 L308.55,387.52 L308.61,386.53 L308.7,385.61 L308.81,384.75 L308.95,383.93 L309.11,383.18 L309.29,382.48 L309.49,381.84 L309.71,381.25 L309.96,380.74 L310.22,380.28 L310.5,379.89 L310.81,379.57 L311.13,379.32 L311.47,379.14 L311.84,379.04 L312.3,379 L312.76,379.04 L313.13,379.14 L313.47,379.32 L313.79,379.57 L314.1,379.89 L314.38,380.28 L314.64,380.74 L314.89,381.25 L315.11,381.84 L315.31,382.48 L315.49,383.18 L315.65,383.93 L315.79,384.75 L315.9,385.61 L315.99,386.53 L316.05,387.52 L316.09,388.59Z" fill="#000" fill-rule="evenodd"/>
<g fill="#000"><path d="M229.70,182.92 L229.69,182.77 L229.68,182.57 L229.68,182.31 L229.67,182.01 L229.66,181.68 L229.65,181.32 L229.63,180.95 L229.60,180.57 L229.55,180.19 L229.49,179.81 L229.40,179.42 L229.28,179.06 L229.09,178.77 L228.91,178.52 L228.71,178.29 L228.49,178.08 L228.27,177.88 L228.03,177.71 L227.79,177.55 L227.54,177.42 L227.29,177.30 L227.02,177.19 L226.75,177.11 L226.48,177.03 L226.20,176.93 L225.92,176.84 L225.62,176.76 L225.31,176.69 L224.99,176.64 L224.66,176.59 L224.33,176.55 L223.99,176.53 L223.65,176.51 L223.32,176.51 L222.98,176.51 L222.65,176.53 L222.31,176.52 L221.97,176.52 L221.61,176.53 L221.25,176.55 L220.89,176.58 L220.52,176.63 L220.15,176.68 L219.78,176.74 L219.41,176.82 L219.04,176.91 L218.68,177.02 L218.32,177.14 L217.97,177.26 L217.62,177.39 L217.27,177.54 L216.92,177.70 L216.57,177.88 L216.23,178.07 L215.89,178.27 L215.56,178.49 L215.24,178.72 L214.92,178.97 L214.62,179.23 L214.33,179.50 L214.06,179.80 L213.81,180.11 L213.56,180.44 L213.32,180.78 L213.09,181.13 L212.88,181.50 L212.69,181.87 L212.51,182.25 L212.35,182.65 L212.21,183.05 L212.10,183.46 L212.02,183.88 L211.99,184.29 L211.99,184.70 L212.01,185.11 L212.07,185.51 L212.16,185.90 L212.27,186.29 L212.41,186.66 L212.57,187.03 L212.76,187.39 L212.97,187.73 L213.19,188.07 L213.45,188.41 L213.77,188.75 L214.11,189.06 L214.46,189.35 L214.82,189.62 L215.19,189.87 L215.56,190.11 L215.92,190.33 L216.28,190.55 L216.64,190.76 L216.98,190.97 L217.31,191.17 L217.64,191.38 L218.02,191.60 L218.43,191.83 L218.83,192.04 L219.23,192.25 L219.62,192.45 L219.99,192.64 L220.36,192.83 L220.70,193.02 L221.02,193.20 L221.30,193.37 L221.55,193.54 L221.78,193.71 L222.01,193.90 L222.25,194.11 L222.47,194.32 L222.67,194.52 L222.86,194.72 L223.03,194.91 L223.17,195.09 L223.29,195.26 L223.40,195.43 L223.47,195.57 L223.53,195.70 L223.57,195.82 L223.61,195.93 L223.65,196.07 L223.68,196.24 L223.70,196.42 L223.71,196.62 L223.71,196.83 L223.69,197.05 L223.67,197.27 L223.63,197.48 L223.59,197.70 L223.53,197.89 L223.47,198.08 L223.42,198.26 L223.34,198.44 L223.26,198.62 L223.17,198.80 L223.06,198.98 L222.94,199.16 L222.81,199.34 L222.67,199.51 L222.51,199.68 L222.35,199.85 L222.17,200.01 L221.98,200.16 L221.77,200.31 L221.54,200.46 L221.28,200.62 L220.99,200.77 L220.70,200.91 L220.38,201.06 L220.06,201.19 L219.72,201.31 L219.38,201.43 L219.04,201.54 L218.70,201.63 L218.37,201.71 L218.03,201.79 L217.68,201.85 L217.31,201.90 L216.93,201.94 L216.55,201.97 L216.15,201.99 L215.76,202.01 L215.37,202.01 L214.98,202.01 L214.60,201.99 L214.23,201.97 L213.86,201.94 L213.50,201.90 L213.14,201.85 L212.77,201.80 L212.41,201.73 L212.06,201.66 L211.72,201.58 L211.38,201.49 L211.07,201.40 L210.77,201.30 L210.50,201.19 L210.25,201.08 L210.03,200.97 L209.82,200.85 L209.62,200.71 L209.43,200.55 L209.24,200.39 L209.06,200.21 L208.89,200.03 L208.74,199.84 L208.60,199.65 L208.48,199.46 L208.37,199.28 L208.28,199.11 L208.22,198.96 L208.17,198.84 L208.13,198.71 L208.11,198.55 L208.10,198.38 L208.11,198.19 L208.13,197.98 L208.16,197.77 L208.21,197.55 L208.26,197.33 L208.32,197.11 L208.39,196.89 L208.45,196.70 L208.51,196.52 L208.57,196.35 L208.64,196.19 L208.73,196.02 L208.82,195.85 L208.93,195.68 L209.04,195.52 L209.16,195.35 L209.29,195.19 L209.42,195.03 L209.55,194.88 L209.67,194.73 L209.81,194.59 L209.96,194.45 L210.13,194.31 L210.31,194.18 L210.49,194.05 L210.68,193.93 L210.85,193.81 L211.02,193.70 L211.17,193.60 L211.29,193.51 L211.39,193.43 L211.14,192.97 L211.03,193.01 L210.89,193.05 L210.72,193.11 L210.54,193.18 L210.33,193.25 L210.11,193.34 L209.89,193.44 L209.66,193.55 L209.43,193.67 L209.21,193.80 L209.00,193.94 L208.82,194.06 L208.64,194.18 L208.45,194.31 L208.27,194.45 L208.08,194.60 L207.89,194.76 L207.71,194.93 L207.53,195.11 L207.35,195.31 L207.18,195.52 L207.02,195.74 L206.88,195.97 L206.76,196.20 L206.64,196.43 L206.52,196.68 L206.40,196.95 L206.29,197.23 L206.19,197.52 L206.10,197.83 L206.03,198.15 L205.99,198.49 L205.97,198.84 L205.99,199.21 L206.05,199.57 L206.15,199.91 L206.26,200.23 L206.41,200.56 L206.57,200.88 L206.76,201.19 L206.97,201.51 L207.19,201.81 L207.44,202.11 L207.71,202.39 L208.00,202.67 L208.31,202.92 L208.64,203.17 L208.99,203.39 L209.35,203.59 L209.73,203.77 L210.12,203.94 L210.52,204.10 L210.93,204.24 L211.35,204.37 L211.77,204.49 L212.20,204.60 L212.62,204.70 L213.05,204.78 L213.47,204.86 L213.90,204.93 L214.34,204.99 L214.79,205.03 L215.25,205.07 L215.71,205.10 L216.18,205.11 L216.65,205.12 L217.12,205.11 L217.59,205.09 L218.05,205.06 L218.51,205.01 L218.97,204.95 L219.41,204.88 L219.86,204.79 L220.30,204.68 L220.75,204.57 L221.18,204.44 L221.62,204.29 L222.04,204.14 L222.46,203.97 L222.87,203.79 L223.27,203.60 L223.65,203.39 L224.02,203.17 L224.38,202.94 L224.71,202.69 L225.04,202.42 L225.34,202.15 L225.63,201.86 L225.91,201.55 L226.17,201.24 L226.41,200.92 L226.63,200.58 L226.84,200.24 L227.02,199.88 L227.19,199.52 L227.33,199.15 L227.46,198.76 L227.56,198.36 L227.65,197.96 L227.72,197.54 L227.77,197.12 L227.80,196.69 L227.80,196.25 L227.77,195.81 L227.72,195.36 L227.63,194.90 L227.50,194.45 L227.32,194.01 L227.11,193.61 L226.87,193.22 L226.62,192.86 L226.35,192.53 L226.07,192.21 L225.78,191.90 L225.49,191.62 L225.18,191.34 L224.87,191.08 L224.56,190.82 L224.22,190.56 L223.85,190.28 L223.45,190.01 L223.05,189.77 L222.64,189.53 L222.23,189.31 L221.83,189.10 L221.43,188.90 L221.05,188.70 L220.68,188.51 L220.33,188.32 L220.01,188.14 L219.69,187.96 L219.34,187.75 L218.96,187.54 L218.60,187.34 L218.24,187.15 L217.91,186.96 L217.59,186.78 L217.29,186.60 L217.02,186.43 L216.78,186.27 L216.58,186.12 L216.42,185.99 L216.28,185.86 L216.14,185.72 L216.00,185.57 L215.87,185.42 L215.76,185.27 L215.66,185.13 L215.58,184.99 L215.51,184.85 L215.44,184.71 L215.39,184.56 L215.35,184.42 L215.33,184.27 L215.31,184.12 L215.30,183.96 L215.31,183.76 L215.34,183.54 L215.39,183.29 L215.46,183.02 L215.55,182.74 L215.66,182.46 L215.78,182.18 L215.91,181.91 L216.05,181.64 L216.19,181.39 L216.34,181.16 L216.48,180.94 L216.65,180.72 L216.83,180.49 L217.03,180.27 L217.25,180.05 L217.48,179.84 L217.72,179.63 L217.97,179.43 L218.22,179.24 L218.49,179.06 L218.75,178.89 L219.01,178.73 L219.28,178.60 L219.56,178.47 L219.85,178.36 L220.16,178.26 L220.47,178.16 L220.79,178.07 L221.11,178.00 L221.43,177.93 L221.75,177.87 L222.07,177.82 L222.38,177.78 L222.69,177.74 L222.99,177.74 L223.29,177.75 L223.59,177.77 L223.89,177.80 L224.18,177.83 L224.47,177.88 L224.75,177.93 L225.02,177.99 L225.27,178.06 L225.51,178.13 L225.73,178.21 L225.92,178.30 L226.08,178.43 L226.23,178.57 L226.35,178.71 L226.46,178.85 L226.56,178.98 L226.63,179.12 L226.69,179.27 L226.75,179.41 L226.79,179.55 L226.82,179.70 L226.85,179.86 L226.86,180.01 L226.90,180.13 L226.94,180.31 L226.98,180.55 L227.01,180.83 L227.03,181.13 L227.05,181.44 L227.06,181.76 L227.07,182.07 L227.08,182.37 L227.08,182.64 L227.09,182.89 L227.10,183.08Z"/><circle cx="228.53" cy="181.67" r="1.80"/><path d="M94.70,381.22 L94.69,381.07 L94.68,380.87 L94.68,380.61 L94.67,380.31 L94.66,379.98 L94.65,379.62 L94.63,379.25 L94.60,378.87 L94.55,378.49 L94.49,378.11 L94.40,377.72 L94.28,377.36 L94.09,377.07 L93.91,376.82 L93.71,376.59 L93.49,376.38 L93.27,376.18 L93.03,376.01 L92.79,375.85 L92.54,375.72 L92.29,375.60 L92.02,375.49 L91.75,375.41 L91.48,375.33 L91.20,375.23 L90.92,375.14 L90.62,375.06 L90.31,374.99 L89.99,374.94 L89.66,374.89 L89.33,374.85 L88.99,374.83 L88.65,374.81 L88.32,374.81 L87.98,374.81 L87.65,374.83 L87.31,374.82 L86.97,374.82 L86.61,374.83 L86.25,374.85 L85.89,374.88 L85.52,374.93 L85.15,374.98 L84.78,375.04 L84.41,375.12 L84.04,375.21 L83.68,375.32 L83.32,375.44 L82.97,375.56 L82.62,375.69 L82.27,375.84 L81.92,376.00 L81.57,376.18 L81.23,376.37 L80.89,376.57 L80.56,376.79 L80.24,377.02 L79.92,377.27 L79.62,377.53 L79.33,377.80 L79.06,378.10 L78.81,378.41 L78.56,378.74 L78.32,379.08 L78.09,379.43 L77.88,379.80 L77.69,380.17 L77.51,380.55 L77.35,380.95 L77.21,381.35 L77.10,381.76 L77.02,382.18 L76.99,382.59 L76.99,383.00 L77.01,383.41 L77.07,383.81 L77.16,384.20 L77.27,384.59 L77.41,384.96 L77.57,385.33 L77.76,385.69 L77.97,386.03 L78.19,386.37 L78.45,386.71 L78.77,387.05 L79.11,387.36 L79.46,387.65 L79.82,387.92 L80.19,388.17 L80.56,388.41 L80.92,388.63 L81.28,388.85 L81.64,389.06 L81.98,389.27 L82.31,389.47 L82.64,389.68 L83.02,389.90 L83.43,390.13 L83.83,390.34 L84.23,390.55 L84.62,390.75 L84.99,390.94 L85.36,391.13 L85.70,391.32 L86.02,391.50 L86.30,391.67 L86.55,391.84 L86.78,392.01 L87.01,392.20 L87.25,392.41 L87.47,392.62 L87.67,392.82 L87.86,393.02 L88.03,393.21 L88.17,393.39 L88.29,393.56 L88.40,393.73 L88.47,393.87 L88.53,394.00 L88.57,394.12 L88.61,394.23 L88.65,394.37 L88.68,394.54 L88.70,394.72 L88.71,394.92 L88.71,395.13 L88.69,395.35 L88.67,395.57 L88.63,395.78 L88.59,396.00 L88.53,396.19 L88.47,396.38 L88.42,396.56 L88.34,396.74 L88.26,396.92 L88.17,397.10 L88.06,397.28 L87.94,397.46 L87.81,397.64 L87.67,397.81 L87.51,397.98 L87.35,398.15 L87.17,398.31 L86.98,398.46 L86.77,398.61 L86.54,398.76 L86.28,398.92 L85.99,399.07 L85.70,399.21 L85.38,399.36 L85.06,399.49 L84.72,399.61 L84.38,399.73 L84.04,399.84 L83.70,399.93 L83.37,400.01 L83.03,400.09 L82.68,400.15 L82.31,400.20 L81.93,400.24 L81.55,400.27 L81.15,400.29 L80.76,400.31 L80.37,400.31 L79.98,400.31 L79.60,400.29 L79.23,400.27 L78.86,400.24 L78.50,400.20 L78.14,400.15 L77.77,400.10 L77.41,400.03 L77.06,399.96 L76.72,399.88 L76.38,399.79 L76.07,399.70 L75.77,399.60 L75.50,399.49 L75.25,399.38 L75.03,399.27 L74.82,399.15 L74.62,399.01 L74.43,398.85 L74.24,398.69 L74.06,398.51 L73.89,398.33 L73.74,398.14 L73.60,397.95 L73.48,397.76 L73.37,397.58 L73.28,397.41 L73.22,397.26 L73.17,397.14 L73.13,397.01 L73.11,396.85 L73.10,396.68 L73.11,396.49 L73.13,396.28 L73.16,396.07 L73.21,395.85 L73.26,395.63 L73.32,395.41 L73.39,395.19 L73.45,395.00 L73.51,394.82 L73.57,394.65 L73.64,394.49 L73.73,394.32 L73.82,394.15 L73.93,393.98 L74.04,393.82 L74.16,393.65 L74.29,393.49 L74.42,393.33 L74.55,393.18 L74.67,393.03 L74.81,392.89 L74.96,392.75 L75.13,392.61 L75.31,392.48 L75.49,392.35 L75.68,392.23 L75.85,392.11 L76.02,392.00 L76.17,391.90 L76.29,391.81 L76.39,391.73 L76.14,391.27 L76.03,391.31 L75.89,391.35 L75.72,391.41 L75.54,391.48 L75.33,391.55 L75.11,391.64 L74.89,391.74 L74.66,391.85 L74.43,391.97 L74.21,392.10 L74.00,392.24 L73.82,392.36 L73.64,392.48 L73.45,392.61 L73.27,392.75 L73.08,392.90 L72.89,393.06 L72.71,393.23 L72.53,393.41 L72.35,393.61 L72.18,393.82 L72.02,394.04 L71.88,394.27 L71.76,394.50 L71.64,394.73 L71.52,394.98 L71.40,395.25 L71.29,395.53 L71.19,395.82 L71.10,396.13 L71.03,396.45 L70.99,396.79 L70.97,397.14 L70.99,397.51 L71.05,397.87 L71.15,398.21 L71.26,398.53 L71.41,398.86 L71.57,399.18 L71.76,399.49 L71.97,399.81 L72.19,400.11 L72.44,400.41 L72.71,400.69 L73.00,400.97 L73.31,401.22 L73.64,401.47 L73.99,401.69 L74.35,401.89 L74.73,402.07 L75.12,402.24 L75.52,402.40 L75.93,402.54 L76.35,402.67 L76.77,402.79 L77.20,402.90 L77.62,403.00 L78.05,403.08 L78.47,403.16 L78.90,403.23 L79.34,403.29 L79.79,403.33 L80.25,403.37 L80.71,403.40 L81.18,403.41 L81.65,403.42 L82.12,403.41 L82.59,403.39 L83.05,403.36 L83.51,403.31 L83.97,403.25 L84.41,403.18 L84.86,403.09 L85.30,402.98 L85.75,402.87 L86.18,402.74 L86.62,402.59 L87.04,402.44 L87.46,402.27 L87.87,402.09 L88.27,401.90 L88.65,401.69 L89.02,401.47 L89.38,401.24 L89.71,400.99 L90.04,400.72 L90.34,400.45 L90.63,400.16 L90.91,399.85 L91.17,399.54 L91.41,399.22 L91.63,398.88 L91.84,398.54 L92.02,398.18 L92.19,397.82 L92.33,397.45 L92.46,397.06 L92.56,396.66 L92.65,396.26 L92.72,395.84 L92.77,395.42 L92.80,394.99 L92.80,394.55 L92.77,394.11 L92.72,393.66 L92.63,393.20 L92.50,392.75 L92.32,392.31 L92.11,391.91 L91.87,391.52 L91.62,391.16 L91.35,390.83 L91.07,390.51 L90.78,390.20 L90.49,389.92 L90.18,389.64 L89.87,389.38 L89.56,389.12 L89.22,388.86 L88.85,388.58 L88.45,388.31 L88.05,388.07 L87.64,387.83 L87.23,387.61 L86.83,387.40 L86.43,387.20 L86.05,387.00 L85.68,386.81 L85.33,386.62 L85.01,386.44 L84.69,386.26 L84.34,386.05 L83.96,385.84 L83.60,385.64 L83.24,385.45 L82.91,385.26 L82.59,385.08 L82.29,384.90 L82.02,384.73 L81.78,384.57 L81.58,384.42 L81.42,384.29 L81.28,384.16 L81.14,384.02 L81.00,383.87 L80.87,383.72 L80.76,383.57 L80.66,383.43 L80.58,383.29 L80.51,383.15 L80.44,383.01 L80.39,382.86 L80.35,382.72 L80.33,382.57 L80.31,382.42 L80.30,382.26 L80.31,382.06 L80.34,381.84 L80.39,381.59 L80.46,381.32 L80.55,381.04 L80.66,380.76 L80.78,380.48 L80.91,380.21 L81.05,379.94 L81.19,379.69 L81.34,379.46 L81.48,379.24 L81.65,379.02 L81.83,378.79 L82.03,378.57 L82.25,378.35 L82.48,378.14 L82.72,377.93 L82.97,377.73 L83.22,377.54 L83.49,377.36 L83.75,377.19 L84.01,377.03 L84.28,376.90 L84.56,376.77 L84.85,376.66 L85.16,376.56 L85.47,376.46 L85.79,376.37 L86.11,376.30 L86.43,376.23 L86.75,376.17 L87.07,376.12 L87.38,376.08 L87.69,376.04 L87.99,376.04 L88.29,376.05 L88.59,376.07 L88.89,376.10 L89.18,376.13 L89.47,376.18 L89.75,376.23 L90.02,376.29 L90.27,376.36 L90.51,376.43 L90.73,376.51 L90.92,376.60 L91.08,376.73 L91.23,376.87 L91.35,377.01 L91.46,377.15 L91.56,377.28 L91.63,377.42 L91.69,377.57 L91.75,377.71 L91.79,377.85 L91.82,378.00 L91.85,378.16 L91.86,378.31 L91.90,378.43 L91.94,378.61 L91.98,378.85 L92.01,379.13 L92.03,379.43 L92.05,379.74 L92.06,380.06 L92.07,380.37 L92.08,380.67 L92.08,380.94 L92.09,381.19 L92.10,381.38Z"/><circle cx="93.53" cy="379.97" r="1.80"/></g>
<polygon points="416.4,67.8 697.4,112.3 700.2,269.9 419.3,218.3" fill="#fafafa"/>
<polygon points="420.7,299.4 707.4,353.9 711,493.6 424.1,431.9" fill="#fafafa"/>
<path d="M414.7,66.4 L699,111.4 M422.6,431.2 L712.7,495" stroke="#161616" stroke-width="1.8" fill="none" stroke-linecap="square"/>
<path d="M414.7,66.4 L417.9,218.8 M419,299 L422.6,431.2 M699,111.4 L701.8,270.5 M709,353.5 L712.7,495" stroke="#3a3a3a" stroke-width="1.3" fill="none"/>
<polygon points="419.1,229.4 705.1,281.3 707.7,345 420.3,291.2" fill="#fafafa"/>
<path d="M419.1,229.4 L705.1,281.3" stroke="#111" stroke-width="1.7" fill="none" stroke-dasharray="6.9 4.73" stroke-dashoffset="3.2"/>
<path d="M705.1,281.3 L707.7,345" stroke="#111" stroke-width="1.7" fill="none" stroke-dasharray="8.4 8" stroke-dashoffset="5.1"/>
<path d="M420.3,291.2 L707.7,345" stroke="#111" stroke-width="1.7" fill="none" stroke-dasharray="6.9 4.8" stroke-dashoffset="3.36"/>
<path d="M419.1,229.4 L420.3,291.2" stroke="#111" stroke-width="1.7" fill="none" stroke-dasharray="7.5 7.7" stroke-dashoffset="3.4"/>
<path d="M428.1,275.1 L429.23,274 L430.36,272.38 L431.5,270.31 L432.63,267.9 L433.76,265.26 L434.89,262.51 L436.03,259.78 L437.16,257.2 L438.29,254.88 L439.42,252.93 L440.55,251.46 L441.69,250.53 L442.82,250.18 L443.95,250.44 L445.08,251.31 L446.22,252.76 L447.35,254.72 L448.48,257.13 L449.61,259.87 L450.74,262.85 L451.88,265.93 L453.01,268.99 L454.14,271.89 L455.27,274.53 L456.41,276.79 L457.54,278.57 L458.67,279.82 L459.8,280.48 L460.93,280.52 L462.07,279.97 L463.2,278.83 L464.33,277.18 L465.46,275.09 L466.59,272.67 L467.73,270.02 L468.86,267.26 L469.99,264.54 L471.12,261.97 L472.26,259.67 L473.39,257.75 L474.52,256.31 L475.65,255.4 L476.78,255.09 L477.92,255.39 L479.05,256.3 L480.18,257.78 L481.31,259.77 L482.45,262.2 L483.58,264.96 L484.71,267.94 L485.84,271.02 L486.97,274.08 L488.11,276.97 L489.24,279.59 L490.37,281.82 L491.5,283.58 L492.64,284.79 L493.77,285.41 L494.9,285.42" stroke="#f0aa33" stroke-width="3" fill="none" stroke-linecap="round" stroke-linejoin="round"/>
<path d="M503.3,267.8 C503.97,267.5 506.07,266.57 507.3,266 C508.53,265.43 509.8,264.52 510.7,264.4 C511.6,264.28 512.07,264.32 512.7,265.3 C513.33,266.28 513.83,268 514.5,270.3 C515.17,272.6 516.03,276.43 516.7,279.1 C517.37,281.77 517.92,284.67 518.5,286.3 C519.08,287.93 519.65,288.9 520.2,288.9 C520.75,288.9 521.23,288.18 521.8,286.3 C522.37,284.42 523,280.38 523.6,277.6 C524.2,274.82 524.83,271.32 525.4,269.6 C525.97,267.88 526.4,267.48 527,267.3 C527.6,267.12 528.05,267.68 529,268.5 C529.95,269.32 531.48,271.18 532.7,272.2 C533.92,273.22 535.33,274.15 536.3,274.6 C537.27,275.05 537.63,275.18 538.5,274.9 C539.37,274.62 540.45,273.5 541.5,272.9 C542.55,272.3 543.88,271.3 544.8,271.3 C545.72,271.3 546.33,271.67 547,272.9 C547.67,274.13 548.13,276.28 548.8,278.7 C549.47,281.12 550.33,284.87 551,287.4 C551.67,289.93 552.27,292.45 552.8,293.9 C553.33,295.35 553.65,296.22 554.2,296.1 C554.75,295.98 555.48,295.02 556.1,293.2 C556.72,291.38 557.3,287.87 557.9,285.2 C558.5,282.53 559.1,278.95 559.7,277.2 C560.3,275.45 560.83,274.93 561.5,274.7 C562.17,274.47 562.92,275.02 563.7,275.8 C564.48,276.58 565.42,278.37 566.2,279.4 C566.98,280.43 567.73,281.42 568.4,282 C569.07,282.58 569.9,282.75 570.2,282.9" stroke="#3aa99d" stroke-width="3" fill="none" stroke-linecap="round" stroke-linejoin="round"/>
<path d="M582.4,291.6 C582.88,291.97 584.33,292.77 585.3,293.8 C586.27,294.83 587.37,296.83 588.2,297.8 C589.03,298.77 589.63,299.55 590.3,299.6 C590.97,299.65 591.58,299.32 592.2,298.1 C592.82,296.88 593.35,294.83 594,292.3 C594.65,289.77 595.32,285.25 596.1,282.9 C596.88,280.55 597.85,278.57 598.7,278.2 C599.55,277.83 600.42,279.07 601.2,280.7 C601.98,282.33 602.62,285.22 603.4,288 C604.18,290.78 605.05,294.87 605.9,297.4 C606.75,299.93 607.65,301.98 608.5,303.2 C609.35,304.42 610.15,304.82 611,304.7 C611.85,304.58 612.65,303.42 613.6,302.5 C614.55,301.58 615.75,299.5 616.7,299.2 C617.65,298.9 618.38,299.67 619.3,300.7 C620.22,301.73 621.37,304.25 622.2,305.4 C623.03,306.55 623.58,307.48 624.3,307.6 C625.02,307.72 625.83,307.43 626.5,306.1 C627.17,304.77 627.63,302.25 628.3,299.6 C628.97,296.95 629.7,292.43 630.5,290.2 C631.3,287.97 632.25,286.45 633.1,286.2 C633.95,285.95 634.77,286.95 635.6,288.7 C636.43,290.45 637.2,293.67 638.1,296.7 C639,299.73 639.9,304.37 641,306.9 C642.1,309.43 643.6,311.48 644.7,311.9 C645.8,312.32 646.7,310.23 647.6,309.4 C648.5,308.57 649.68,307.32 650.1,306.9" stroke="#d81b60" stroke-width="3" fill="none" stroke-linecap="round" stroke-linejoin="round"/>
<g fill="#6b6b6b"><circle cx="669.8" cy="307.3" r="3"/><circle cx="681.4" cy="309.2" r="3"/><circle cx="692.4" cy="310.7" r="3"/></g>
<path d="M463.66,123.74 L505.9,209.3" stroke="#6e6e6e" stroke-width="4" fill="none" stroke-dasharray="7 8.9" stroke-dashoffset="3.5"/>
<path d="M455.67,394.6 L535,345.4" stroke="#6e6e6e" stroke-width="4" fill="none" stroke-dasharray="7.5 8.06" stroke-dashoffset="3.75"/>
<path d="M582.7,222.6 L665.3,160.3" stroke="#a6a6a6" stroke-width="3.9" fill="none"/>
<path d="M609,357.4 L648.1,445.9" stroke="#a6a6a6" stroke-width="3.9" fill="none"/>
<path d="M492.1,179.2 L473.2,163.3 Q479.05,153 489.9,155.5 Z" fill="#c4c4c4" fill-opacity="0.75" stroke="#7c7c7c" stroke-width="1.4" stroke-linejoin="round"/>
<path d="M508.6,361.8 L483.2,366.9 Q481.2,376.95 492.8,381.6 Z" fill="#c4c4c4" fill-opacity="0.75" stroke="#7c7c7c" stroke-width="1.4" stroke-linejoin="round"/>
<path d="M637.4,180.4 L614.8,186.6 Q614.5,197.4 625.4,201 Z" fill="#e8e8e8" fill-opacity="0.7" stroke="#a9a9a9" stroke-width="1.4" stroke-linejoin="round"/>
<path d="M632.6,408.6 L616.3,393.3 Q623.75,382.55 633,387.2 Z" fill="#e8e8e8" fill-opacity="0.7" stroke="#a9a9a9" stroke-width="1.4" stroke-linejoin="round"/>
<g fill="#000">
<path d="M499.23,131.52 L500.80,131.83 L502.95,132.24 L504.51,132.55 L504.29,130.88 L502.74,130.63 L500.60,130.28 L499.04,130.04Z"/><path d="M502.08,131.27 L502.04,131.61 L501.98,132.04 L501.91,132.56 L501.83,133.14 L501.75,133.76 L501.66,134.41 L501.58,135.08 L501.49,135.75 L501.41,136.39 L501.33,137.00 L501.26,137.60 L501.18,138.20 L501.11,138.80 L501.04,139.41 L500.97,140.03 L500.90,140.64 L500.82,141.24 L500.75,141.85 L500.68,142.45 L500.61,143.04 L500.54,143.63 L500.46,144.22 L500.39,144.82 L500.32,145.41 L500.24,146.00 L500.17,146.59 L500.10,147.16 L500.04,147.71 L499.97,148.24 L499.92,148.74 L499.87,149.21 L499.83,149.65 L499.79,150.09 L499.74,150.52 L499.70,150.95 L499.66,151.37 L499.64,151.80 L499.62,152.24 L499.62,152.69 L499.64,153.13 L499.70,153.56 L499.76,153.98 L499.84,154.39 L499.93,154.81 L500.04,155.22 L500.17,155.63 L500.32,156.04 L500.49,156.44 L500.70,156.83 L500.93,157.19 L501.17,157.52 L501.42,157.82 L501.69,158.10 L501.98,158.35 L502.27,158.57 L502.57,158.76 L502.88,158.92 L503.20,159.05 L503.52,159.14 L503.83,159.18 L504.15,159.24 L504.48,159.26 L504.81,159.26 L505.14,159.22 L505.48,159.16 L505.82,159.08 L506.15,158.97 L506.48,158.84 L506.80,158.69 L507.11,158.52 L507.43,158.35 L507.74,158.16 L508.05,157.95 L508.36,157.71 L508.67,157.45 L508.97,157.17 L509.26,156.86 L509.54,156.53 L509.81,156.17 L510.05,155.79 L510.26,155.36 L510.45,154.90 L510.63,154.42 L510.79,153.92 L510.93,153.41 L511.05,152.90 L511.17,152.39 L511.27,151.88 L511.35,151.38 L511.42,150.88 L511.45,150.37 L511.46,149.85 L511.46,149.33 L511.44,148.81 L511.41,148.30 L511.36,147.79 L511.30,147.30 L511.22,146.81 L511.14,146.34 L511.03,145.88 L510.89,145.42 L510.73,144.99 L510.56,144.56 L510.37,144.15 L510.16,143.76 L509.94,143.39 L509.71,143.04 L509.47,142.72 L509.21,142.42 L508.94,142.16 L508.65,141.92 L508.36,141.72 L508.07,141.56 L507.78,141.43 L507.50,141.34 L507.21,141.27 L506.93,141.24 L506.66,141.23 L506.40,141.25 L506.15,141.31 L505.89,141.36 L505.64,141.45 L505.39,141.57 L505.16,141.71 L504.93,141.88 L504.71,142.05 L504.49,142.24 L504.29,142.44 L504.11,142.64 L503.93,142.84 L503.74,143.09 L503.56,143.38 L503.39,143.69 L503.24,144.00 L503.11,144.30 L502.99,144.59 L502.88,144.84 L502.80,145.04 L502.73,145.19 L503.63,146.09 L503.70,145.93 L503.80,145.71 L503.90,145.46 L504.02,145.19 L504.14,144.90 L504.28,144.62 L504.42,144.35 L504.57,144.12 L504.72,143.91 L504.87,143.74 L505.04,143.56 L505.22,143.39 L505.41,143.22 L505.61,143.06 L505.80,142.92 L506.00,142.80 L506.19,142.71 L506.37,142.65 L506.54,142.61 L506.72,142.64 L506.91,142.69 L507.10,142.75 L507.30,142.84 L507.49,142.94 L507.66,143.06 L507.83,143.18 L507.97,143.32 L508.09,143.45 L508.18,143.58 L508.26,143.73 L508.35,143.91 L508.43,144.10 L508.51,144.31 L508.58,144.53 L508.65,144.77 L508.71,145.02 L508.76,145.28 L508.81,145.55 L508.84,145.83 L508.88,146.12 L508.92,146.44 L508.95,146.79 L508.97,147.16 L508.98,147.54 L508.98,147.93 L508.97,148.33 L508.95,148.72 L508.91,149.11 L508.86,149.50 L508.83,149.91 L508.79,150.35 L508.73,150.80 L508.66,151.26 L508.58,151.71 L508.48,152.15 L508.38,152.58 L508.27,152.98 L508.14,153.36 L508.01,153.70 L507.88,154.04 L507.73,154.38 L507.56,154.71 L507.38,155.03 L507.18,155.33 L506.97,155.63 L506.75,155.91 L506.53,156.17 L506.31,156.41 L506.08,156.63 L505.85,156.82 L505.60,157.00 L505.34,157.16 L505.08,157.30 L504.82,157.42 L504.55,157.52 L504.30,157.60 L504.06,157.65 L503.83,157.68 L503.63,157.69 L503.44,157.61 L503.25,157.50 L503.07,157.37 L502.90,157.23 L502.74,157.06 L502.59,156.89 L502.45,156.71 L502.34,156.54 L502.24,156.36 L502.17,156.21 L502.14,156.07 L502.10,155.91 L502.08,155.74 L502.06,155.54 L502.04,155.32 L502.03,155.08 L502.03,154.82 L502.04,154.54 L502.05,154.25 L502.07,153.96 L502.08,153.69 L502.10,153.41 L502.14,153.11 L502.19,152.78 L502.24,152.43 L502.31,152.05 L502.38,151.65 L502.46,151.21 L502.53,150.75 L502.61,150.27 L502.66,149.77 L502.73,149.25 L502.79,148.70 L502.86,148.14 L502.93,147.56 L503.00,146.97 L503.08,146.37 L503.15,145.77 L503.23,145.17 L503.30,144.58 L503.37,143.98 L503.44,143.38 L503.51,142.78 L503.58,142.17 L503.66,141.56 L503.73,140.95 L503.80,140.34 L503.87,139.73 L503.95,139.13 L504.02,138.54 L504.08,137.92 L504.15,137.26 L504.22,136.59 L504.30,135.92 L504.37,135.25 L504.44,134.62 L504.50,134.04 L504.55,133.52 L504.60,133.07 L504.63,132.73Z"/>
<path d="M596.53,154.67 L598.10,154.98 L600.25,155.39 L601.81,155.70 L601.59,154.03 L600.04,153.78 L597.90,153.43 L596.34,153.19Z"/><path d="M599.38,154.42 L599.34,154.76 L599.28,155.19 L599.21,155.71 L599.13,156.29 L599.05,156.91 L598.96,157.56 L598.88,158.23 L598.79,158.90 L598.71,159.54 L598.63,160.15 L598.56,160.75 L598.48,161.35 L598.41,161.95 L598.34,162.56 L598.27,163.18 L598.20,163.79 L598.12,164.39 L598.05,165.00 L597.98,165.60 L597.91,166.19 L597.84,166.78 L597.76,167.37 L597.69,167.97 L597.62,168.56 L597.54,169.15 L597.47,169.74 L597.40,170.31 L597.34,170.86 L597.27,171.39 L597.22,171.89 L597.17,172.36 L597.13,172.80 L597.09,173.24 L597.04,173.67 L597.00,174.10 L596.96,174.52 L596.94,174.95 L596.92,175.39 L596.92,175.84 L596.94,176.28 L597.00,176.71 L597.06,177.13 L597.14,177.54 L597.23,177.96 L597.34,178.37 L597.47,178.78 L597.62,179.19 L597.79,179.59 L598.00,179.98 L598.23,180.34 L598.47,180.67 L598.72,180.97 L598.99,181.25 L599.28,181.50 L599.57,181.72 L599.87,181.91 L600.18,182.07 L600.50,182.20 L600.82,182.29 L601.13,182.33 L601.45,182.39 L601.78,182.41 L602.11,182.41 L602.44,182.37 L602.78,182.31 L603.12,182.23 L603.45,182.12 L603.78,181.99 L604.10,181.84 L604.41,181.67 L604.73,181.50 L605.04,181.31 L605.35,181.10 L605.66,180.86 L605.97,180.60 L606.27,180.32 L606.56,180.01 L606.84,179.68 L607.11,179.32 L607.35,178.94 L607.56,178.51 L607.75,178.05 L607.93,177.57 L608.09,177.07 L608.23,176.56 L608.35,176.05 L608.47,175.54 L608.57,175.03 L608.65,174.53 L608.72,174.03 L608.75,173.52 L608.76,173.00 L608.76,172.48 L608.74,171.96 L608.71,171.45 L608.66,170.94 L608.60,170.45 L608.52,169.96 L608.44,169.49 L608.33,169.03 L608.19,168.57 L608.03,168.14 L607.86,167.71 L607.67,167.30 L607.46,166.91 L607.24,166.54 L607.01,166.19 L606.77,165.87 L606.51,165.57 L606.24,165.31 L605.95,165.07 L605.66,164.87 L605.37,164.71 L605.08,164.58 L604.80,164.49 L604.51,164.42 L604.23,164.39 L603.96,164.38 L603.70,164.40 L603.45,164.46 L603.19,164.51 L602.94,164.60 L602.69,164.72 L602.46,164.86 L602.23,165.03 L602.01,165.20 L601.79,165.39 L601.59,165.59 L601.41,165.79 L601.23,165.99 L601.04,166.24 L600.86,166.53 L600.69,166.84 L600.54,167.15 L600.41,167.45 L600.29,167.74 L600.18,167.99 L600.10,168.19 L600.03,168.34 L600.93,169.24 L601.00,169.08 L601.10,168.86 L601.20,168.61 L601.32,168.34 L601.44,168.05 L601.58,167.77 L601.72,167.50 L601.87,167.27 L602.02,167.06 L602.17,166.89 L602.34,166.71 L602.52,166.54 L602.71,166.37 L602.91,166.21 L603.10,166.07 L603.30,165.95 L603.49,165.86 L603.67,165.80 L603.84,165.76 L604.02,165.79 L604.21,165.84 L604.40,165.90 L604.60,165.99 L604.79,166.09 L604.96,166.21 L605.13,166.33 L605.27,166.47 L605.39,166.60 L605.48,166.73 L605.56,166.88 L605.65,167.06 L605.73,167.25 L605.81,167.46 L605.88,167.68 L605.95,167.92 L606.01,168.17 L606.06,168.43 L606.11,168.70 L606.14,168.98 L606.18,169.27 L606.22,169.59 L606.25,169.94 L606.27,170.31 L606.28,170.69 L606.28,171.08 L606.27,171.48 L606.25,171.87 L606.21,172.26 L606.16,172.65 L606.13,173.06 L606.09,173.50 L606.03,173.95 L605.96,174.41 L605.88,174.86 L605.78,175.30 L605.68,175.73 L605.57,176.13 L605.44,176.51 L605.31,176.85 L605.18,177.19 L605.03,177.53 L604.86,177.86 L604.68,178.18 L604.48,178.48 L604.27,178.78 L604.05,179.06 L603.83,179.32 L603.61,179.56 L603.38,179.78 L603.15,179.97 L602.90,180.15 L602.64,180.31 L602.38,180.45 L602.12,180.57 L601.85,180.67 L601.60,180.75 L601.36,180.80 L601.13,180.83 L600.93,180.84 L600.74,180.76 L600.55,180.65 L600.37,180.52 L600.20,180.38 L600.04,180.21 L599.89,180.04 L599.75,179.86 L599.64,179.69 L599.54,179.51 L599.47,179.36 L599.44,179.22 L599.40,179.06 L599.38,178.89 L599.36,178.69 L599.34,178.47 L599.33,178.23 L599.33,177.97 L599.34,177.69 L599.35,177.40 L599.37,177.11 L599.38,176.84 L599.40,176.56 L599.44,176.26 L599.49,175.93 L599.54,175.58 L599.61,175.20 L599.68,174.80 L599.76,174.36 L599.83,173.90 L599.91,173.42 L599.96,172.92 L600.03,172.40 L600.09,171.85 L600.16,171.29 L600.23,170.71 L600.30,170.12 L600.38,169.52 L600.45,168.92 L600.53,168.32 L600.60,167.73 L600.67,167.13 L600.74,166.53 L600.81,165.93 L600.88,165.32 L600.96,164.71 L601.03,164.10 L601.10,163.49 L601.17,162.88 L601.25,162.28 L601.32,161.69 L601.38,161.07 L601.45,160.41 L601.52,159.74 L601.60,159.07 L601.67,158.40 L601.74,157.77 L601.80,157.19 L601.85,156.67 L601.90,156.22 L601.93,155.88Z"/>
<path d="M495.68,396.45 L495.53,396.35 L495.34,396.22 L495.11,396.04 L494.84,395.83 L494.56,395.61 L494.25,395.39 L493.93,395.16 L493.62,394.95 L493.30,394.76 L492.99,394.60 L492.70,394.46 L492.41,394.33 L492.12,394.20 L491.82,394.09 L491.52,393.99 L491.22,393.91 L490.92,393.84 L490.62,393.79 L490.32,393.76 L490.04,393.75 L489.74,393.73 L489.45,393.73 L489.16,393.73 L488.86,393.76 L488.57,393.81 L488.27,393.88 L487.98,393.98 L487.69,394.10 L487.41,394.26 L487.13,394.46 L486.85,394.66 L486.57,394.89 L486.30,395.16 L486.03,395.45 L485.77,395.77 L485.52,396.11 L485.28,396.47 L485.05,396.85 L484.84,397.24 L484.65,397.64 L484.48,398.07 L484.34,398.53 L484.20,399.00 L484.09,399.48 L483.99,399.98 L483.90,400.48 L483.82,400.99 L483.76,401.49 L483.71,401.99 L483.68,402.49 L483.70,403.01 L483.74,403.54 L483.80,404.07 L483.87,404.60 L483.95,405.13 L484.05,405.65 L484.16,406.16 L484.28,406.66 L484.42,407.15 L484.58,407.63 L484.79,408.08 L485.02,408.51 L485.26,408.91 L485.51,409.30 L485.78,409.65 L486.05,409.98 L486.33,410.29 L486.62,410.56 L486.91,410.80 L487.21,411.01 L487.51,411.21 L487.82,411.37 L488.12,411.50 L488.43,411.59 L488.72,411.66 L489.02,411.70 L489.30,411.71 L489.58,411.71 L489.86,411.67 L490.12,411.62 L490.39,411.59 L490.67,411.53 L490.94,411.44 L491.21,411.34 L491.47,411.21 L491.73,411.07 L491.98,410.91 L492.23,410.74 L492.47,410.56 L492.71,410.37 L492.98,410.12 L493.25,409.82 L493.52,409.49 L493.78,409.15 L494.02,408.81 L494.25,408.49 L494.45,408.21 L494.62,407.98 L494.75,407.81 L493.68,406.60 L493.56,406.80 L493.41,407.06 L493.23,407.37 L493.03,407.70 L492.81,408.05 L492.59,408.40 L492.36,408.72 L492.14,409.00 L491.92,409.24 L491.72,409.42 L491.51,409.59 L491.30,409.76 L491.08,409.91 L490.86,410.05 L490.63,410.17 L490.41,410.27 L490.19,410.35 L489.98,410.41 L489.77,410.45 L489.54,410.42 L489.32,410.37 L489.09,410.31 L488.87,410.23 L488.65,410.14 L488.45,410.03 L488.26,409.91 L488.09,409.78 L487.94,409.64 L487.81,409.50 L487.69,409.33 L487.57,409.14 L487.46,408.94 L487.35,408.72 L487.25,408.50 L487.16,408.26 L487.08,408.02 L487.01,407.77 L486.95,407.51 L486.90,407.25 L486.82,406.96 L486.74,406.64 L486.67,406.29 L486.61,405.91 L486.55,405.51 L486.51,405.10 L486.47,404.69 L486.45,404.27 L486.44,403.87 L486.44,403.47 L486.41,403.05 L486.39,402.62 L486.38,402.17 L486.38,401.72 L486.40,401.27 L486.43,400.82 L486.47,400.38 L486.52,399.96 L486.58,399.56 L486.66,399.17 L486.73,398.78 L486.83,398.39 L486.94,398.00 L487.06,397.62 L487.20,397.25 L487.35,396.89 L487.51,396.55 L487.67,396.24 L487.83,395.95 L488.00,395.70 L488.19,395.51 L488.38,395.34 L488.59,395.19 L488.81,395.07 L489.04,394.96 L489.27,394.87 L489.51,394.80 L489.76,394.74 L490.00,394.70 L490.25,394.67 L490.50,394.69 L490.76,394.72 L491.02,394.78 L491.29,394.85 L491.55,394.94 L491.82,395.04 L492.09,395.15 L492.35,395.27 L492.61,395.41 L492.87,395.54 L493.11,395.70 L493.37,395.89 L493.64,396.11 L493.92,396.35 L494.19,396.59 L494.46,396.83 L494.70,397.05 L494.92,397.26 L495.12,397.45 L495.27,397.59Z"/><path d="M495.61,395.96 L495.58,396.19 L495.55,396.48 L495.52,396.82 L495.48,397.21 L495.43,397.62 L495.39,398.06 L495.34,398.50 L495.29,398.95 L495.25,399.38 L495.20,399.79 L495.16,400.18 L495.12,400.59 L495.08,401.00 L495.03,401.41 L494.99,401.83 L494.95,402.25 L494.90,402.67 L494.86,403.09 L494.82,403.50 L494.78,403.91 L494.75,404.31 L494.71,404.71 L494.68,405.12 L494.64,405.53 L494.60,405.94 L494.57,406.34 L494.55,406.75 L494.53,407.14 L494.51,407.53 L494.51,407.91 L494.53,408.27 L494.55,408.62 L494.57,408.97 L494.60,409.31 L494.64,409.65 L494.69,409.98 L494.75,410.30 L494.82,410.62 L494.91,410.93 L495.01,411.24 L495.13,411.54 L495.28,411.83 L495.44,412.10 L495.61,412.35 L495.80,412.58 L496.01,412.79 L496.24,412.97 L496.48,413.12 L496.72,413.22 L496.97,413.27 L497.19,413.27 L497.40,413.23 L497.59,413.16 L497.77,413.07 L497.95,412.95 L498.12,412.81 L498.28,412.65 L498.43,412.46 L498.57,412.25 L498.70,412.01 L498.82,411.70 L498.94,411.34 L499.04,410.94 L499.13,410.52 L499.21,410.11 L499.28,409.71 L499.34,409.35 L499.39,409.06 L499.42,408.84 L498.71,408.35 L498.64,408.55 L498.55,408.83 L498.46,409.17 L498.35,409.53 L498.24,409.91 L498.12,410.27 L498.00,410.61 L497.88,410.88 L497.76,411.08 L497.66,411.20 L497.54,411.32 L497.42,411.42 L497.29,411.50 L497.17,411.56 L497.05,411.60 L496.94,411.62 L496.84,411.62 L496.77,411.61 L496.74,411.59 L496.74,411.57 L496.74,411.55 L496.74,411.53 L496.72,411.49 L496.70,411.45 L496.68,411.39 L496.65,411.31 L496.62,411.23 L496.59,411.13 L496.57,411.03 L496.55,410.90 L496.53,410.75 L496.51,410.56 L496.50,410.34 L496.49,410.10 L496.49,409.85 L496.49,409.57 L496.50,409.29 L496.51,408.99 L496.53,408.68 L496.54,408.37 L496.56,408.04 L496.59,407.70 L496.62,407.33 L496.66,406.96 L496.70,406.57 L496.75,406.17 L496.80,405.77 L496.84,405.37 L496.89,404.97 L496.94,404.58 L496.99,404.19 L497.04,403.78 L497.09,403.38 L497.14,402.97 L497.20,402.56 L497.25,402.15 L497.31,401.74 L497.36,401.33 L497.41,400.93 L497.46,400.52 L497.50,400.08 L497.55,399.64 L497.60,399.19 L497.65,398.75 L497.69,398.33 L497.73,397.95 L497.77,397.61 L497.80,397.32 L497.82,397.09Z"/>
<path d="M600.33,422.50 L600.18,422.40 L599.99,422.27 L599.76,422.09 L599.49,421.88 L599.21,421.66 L598.90,421.44 L598.58,421.21 L598.27,421.00 L597.95,420.81 L597.64,420.65 L597.35,420.51 L597.06,420.38 L596.77,420.25 L596.47,420.14 L596.17,420.04 L595.87,419.96 L595.57,419.89 L595.27,419.84 L594.97,419.81 L594.69,419.80 L594.39,419.78 L594.10,419.78 L593.81,419.78 L593.51,419.81 L593.22,419.86 L592.92,419.93 L592.63,420.03 L592.34,420.15 L592.06,420.31 L591.78,420.51 L591.50,420.71 L591.22,420.94 L590.95,421.21 L590.68,421.50 L590.42,421.82 L590.17,422.16 L589.93,422.52 L589.70,422.90 L589.49,423.29 L589.30,423.69 L589.13,424.12 L588.99,424.58 L588.85,425.05 L588.74,425.53 L588.64,426.03 L588.55,426.53 L588.47,427.04 L588.41,427.54 L588.36,428.04 L588.33,428.54 L588.35,429.06 L588.39,429.59 L588.45,430.12 L588.52,430.65 L588.60,431.18 L588.70,431.70 L588.81,432.21 L588.93,432.71 L589.07,433.20 L589.23,433.68 L589.44,434.13 L589.67,434.56 L589.91,434.96 L590.16,435.35 L590.43,435.70 L590.70,436.03 L590.98,436.34 L591.27,436.61 L591.56,436.85 L591.86,437.06 L592.16,437.26 L592.47,437.42 L592.77,437.55 L593.08,437.64 L593.37,437.71 L593.67,437.75 L593.95,437.76 L594.23,437.76 L594.51,437.72 L594.77,437.67 L595.04,437.64 L595.32,437.58 L595.59,437.49 L595.86,437.39 L596.12,437.26 L596.38,437.12 L596.63,436.96 L596.88,436.79 L597.12,436.61 L597.36,436.42 L597.63,436.17 L597.90,435.87 L598.17,435.54 L598.43,435.20 L598.67,434.86 L598.90,434.54 L599.10,434.26 L599.27,434.03 L599.40,433.86 L598.33,432.65 L598.21,432.85 L598.06,433.11 L597.88,433.42 L597.68,433.75 L597.46,434.10 L597.24,434.45 L597.01,434.77 L596.79,435.05 L596.57,435.29 L596.37,435.47 L596.16,435.64 L595.95,435.81 L595.73,435.96 L595.51,436.10 L595.28,436.22 L595.06,436.32 L594.84,436.40 L594.63,436.46 L594.42,436.50 L594.19,436.47 L593.97,436.42 L593.74,436.36 L593.52,436.28 L593.30,436.19 L593.10,436.08 L592.91,435.96 L592.74,435.83 L592.59,435.69 L592.46,435.55 L592.34,435.38 L592.22,435.19 L592.11,434.99 L592.00,434.77 L591.90,434.55 L591.81,434.31 L591.73,434.07 L591.66,433.82 L591.60,433.56 L591.55,433.30 L591.47,433.01 L591.39,432.69 L591.32,432.34 L591.26,431.96 L591.20,431.56 L591.16,431.15 L591.12,430.74 L591.10,430.32 L591.09,429.92 L591.09,429.52 L591.06,429.10 L591.04,428.67 L591.03,428.22 L591.03,427.77 L591.05,427.32 L591.08,426.87 L591.12,426.43 L591.17,426.01 L591.23,425.61 L591.31,425.22 L591.38,424.83 L591.48,424.44 L591.59,424.05 L591.71,423.67 L591.85,423.30 L592.00,422.94 L592.16,422.60 L592.32,422.29 L592.48,422.00 L592.65,421.75 L592.84,421.56 L593.03,421.39 L593.24,421.24 L593.46,421.12 L593.69,421.01 L593.92,420.92 L594.16,420.85 L594.41,420.79 L594.65,420.75 L594.90,420.72 L595.15,420.74 L595.41,420.77 L595.67,420.83 L595.94,420.90 L596.20,420.99 L596.47,421.09 L596.74,421.20 L597.00,421.32 L597.26,421.46 L597.52,421.59 L597.76,421.75 L598.02,421.94 L598.29,422.16 L598.57,422.40 L598.84,422.64 L599.11,422.88 L599.35,423.10 L599.57,423.31 L599.77,423.50 L599.92,423.64Z"/><path d="M600.26,422.01 L600.23,422.24 L600.20,422.53 L600.17,422.87 L600.13,423.26 L600.08,423.67 L600.04,424.11 L599.99,424.55 L599.94,425.00 L599.90,425.43 L599.85,425.84 L599.81,426.23 L599.77,426.64 L599.73,427.05 L599.68,427.46 L599.64,427.88 L599.60,428.30 L599.55,428.72 L599.51,429.14 L599.47,429.55 L599.43,429.96 L599.40,430.36 L599.36,430.76 L599.33,431.17 L599.29,431.58 L599.25,431.99 L599.22,432.39 L599.20,432.80 L599.18,433.19 L599.16,433.58 L599.16,433.96 L599.18,434.32 L599.20,434.67 L599.22,435.02 L599.25,435.36 L599.29,435.70 L599.34,436.03 L599.40,436.35 L599.47,436.67 L599.56,436.98 L599.66,437.29 L599.78,437.59 L599.93,437.88 L600.09,438.15 L600.26,438.40 L600.45,438.63 L600.66,438.84 L600.89,439.02 L601.13,439.17 L601.37,439.27 L601.62,439.32 L601.84,439.32 L602.05,439.28 L602.24,439.21 L602.42,439.12 L602.60,439.00 L602.77,438.86 L602.93,438.70 L603.08,438.51 L603.22,438.30 L603.35,438.06 L603.47,437.75 L603.59,437.39 L603.69,436.99 L603.78,436.57 L603.86,436.16 L603.93,435.76 L603.99,435.40 L604.04,435.11 L604.07,434.89 L603.36,434.40 L603.29,434.60 L603.20,434.88 L603.11,435.22 L603.00,435.58 L602.89,435.96 L602.77,436.32 L602.65,436.66 L602.53,436.93 L602.41,437.13 L602.31,437.25 L602.19,437.37 L602.07,437.47 L601.94,437.55 L601.82,437.61 L601.70,437.65 L601.59,437.67 L601.49,437.67 L601.42,437.66 L601.39,437.64 L601.39,437.62 L601.39,437.60 L601.39,437.58 L601.37,437.54 L601.35,437.50 L601.33,437.44 L601.30,437.36 L601.27,437.28 L601.24,437.18 L601.22,437.08 L601.20,436.95 L601.18,436.80 L601.16,436.61 L601.15,436.39 L601.14,436.15 L601.14,435.90 L601.14,435.62 L601.15,435.34 L601.16,435.04 L601.18,434.73 L601.19,434.42 L601.21,434.09 L601.24,433.75 L601.27,433.38 L601.31,433.01 L601.35,432.62 L601.40,432.22 L601.45,431.82 L601.49,431.42 L601.54,431.02 L601.59,430.63 L601.64,430.24 L601.69,429.83 L601.74,429.43 L601.79,429.02 L601.85,428.61 L601.90,428.20 L601.96,427.79 L602.01,427.38 L602.06,426.98 L602.11,426.57 L602.15,426.13 L602.20,425.69 L602.25,425.24 L602.30,424.80 L602.34,424.38 L602.38,424.00 L602.42,423.66 L602.45,423.37 L602.47,423.14Z"/>
</g>
<path d="M512.7,138.4 L530.6,142.7 M521.7,130.2 V151.4 M612.3,162.1 L626.8,166.2 M501.9,392.5 L520,396.8 M511.4,383.9 V405.5 M606.6,416.9 L623.2,420.2" stroke="#000" stroke-width="1.5"/>
<polygon points="809.2,194.6 824.7,197.6 882.6,153.1 881.7,131.3 808.3,167.5" fill="#000" fill-opacity="0.25" filter="url(#blur1)"/>
<polygon points="823.7,170 881.7,131.3 882.1,151.8 824.2,196.3" fill="#7783bf" stroke="#262b40" stroke-width="0.95" stroke-linejoin="round"/>
<polygon points="808.3,167.5 865,128 881.7,131.3 823.7,170" fill="#8fa8fd" stroke="#262b40" stroke-width="0.95" stroke-linejoin="round"/>
<polygon points="808.3,167.5 823.7,170 824.2,196.3 808.7,193.3" fill="#6b78b2" stroke="#262b40" stroke-width="0.95" stroke-linejoin="round"/>
<polygon points="838.9,201.7 853.5,204.3 914.2,157.8 913.3,136 838.4,173.9" fill="#000" fill-opacity="0.25" filter="url(#blur1)"/>
<polygon points="852.4,177.1 913.3,136 913.7,156.5 853,203" fill="#7783bf" stroke="#262b40" stroke-width="0.95" stroke-linejoin="round"/>
<polygon points="838.4,173.9 895.9,133.4 913.3,136 852.4,177.1" fill="#8fa8fd" stroke="#262b40" stroke-width="0.95" stroke-linejoin="round"/>
<polygon points="838.4,173.9 852.4,177.1 853,203 838.4,200.4" fill="#6b78b2" stroke="#262b40" stroke-width="0.95" stroke-linejoin="round"/>
<polygon points="868,208.9 882.6,210.7 945,162.2 944.1,140.4 867,180.3" fill="#000" fill-opacity="0.25" filter="url(#blur1)"/>
<polygon points="881.6,183.2 944.1,140.4 944.5,160.9 882.1,209.4" fill="#7783bf" stroke="#262b40" stroke-width="0.95" stroke-linejoin="round"/>
<polygon points="867,180.3 926.7,137.5 944.1,140.4 881.6,183.2" fill="#8fa8fd" stroke="#262b40" stroke-width="0.95" stroke-linejoin="round"/>
<polygon points="867,180.3 881.6,183.2 882.1,209.4 867.5,207.6" fill="#6b78b2" stroke="#262b40" stroke-width="0.95" stroke-linejoin="round"/>
<polygon points="898,214.9 912.3,216.8 975.1,166.3 974.2,144.5 897.5,186.4" fill="#000" fill-opacity="0.25" filter="url(#blur1)"/>
<polygon points="911.2,189 974.2,144.5 974.6,165 911.8,215.5" fill="#7783bf" stroke="#262b40" stroke-width="0.95" stroke-linejoin="round"/>
<polygon points="897.5,186.4 958.8,142.5 974.2,144.5 911.2,189" fill="#8fa8fd" stroke="#262b40" stroke-width="0.95" stroke-linejoin="round"/>
<polygon points="897.5,186.4 911.2,189 911.8,215.5 897.5,213.6" fill="#6b78b2" stroke="#262b40" stroke-width="0.95" stroke-linejoin="round"/>
<polygon points="928.2,221 941.8,223.8 1005.5,170.8 1004.6,149 926.8,192.4" fill="#000" fill-opacity="0.25" filter="url(#blur1)"/>
<polygon points="940.7,195 1004.6,149 1005,169.5 941.3,222.5" fill="#7783bf" stroke="#262b40" stroke-width="0.95" stroke-linejoin="round"/>
<polygon points="926.8,192.4 989.1,146.5 1004.6,149 940.7,195" fill="#8fa8fd" stroke="#262b40" stroke-width="0.95" stroke-linejoin="round"/>
<polygon points="926.8,192.4 940.7,195 941.3,222.5 927.7,219.7" fill="#6b78b2" stroke="#262b40" stroke-width="0.95" stroke-linejoin="round"/>
<path d="M866.8,309.1 V276 M866.8,309.1 L899,286.3 M866.8,309.1 L898,314.5 M863.2,308.5 L869,309.5 M866.8,309.1 L866.5,312.6" stroke="#000" stroke-width="1.5" fill="none"/>
<path d="M867.4,265.9 L863.9,278.6 L870.9,278.6 Z M907.9,280.5 L896.5,283.2 L900.7,289.2 Z M907.9,316.5 L896.6,311.3 L895.4,318.2 Z" fill="#000"/>
<g class="t" font-style="italic" font-size="28" fill="#000" stroke="#000" stroke-width="0.3"><text x="868" y="259">z</text><text x="911.5" y="273.7">y</text><text x="911.9" y="327">x</text></g>
<path d="M860.78,394.18 L861.44,394.28 L862.11,394.37 L862.81,394.44 L863.51,394.49 L864.22,394.52 L864.94,394.53 L865.67,394.53 L866.39,394.5 L867.11,394.46 L867.82,394.4 L868.51,394.32 L869.2,394.23 L869.86,394.11 L870.51,393.98 L871.13,393.84 L871.72,393.68 L872.29,393.5 L872.82,393.32 L873.31,393.12 L873.77,392.9 L874.19,392.68 L874.57,392.45 L874.91,392.21 L874.91,392.21 L886.6,394.2 L886.6,394.2 L886.17,394.61 L885.85,395.02 L885.66,395.45 L885.59,395.89 L885.64,396.32 L885.82,396.75 L886.13,397.17 L886.55,397.57 L887.09,397.96 L887.73,398.32 L888.48,398.66 L889.32,398.96 L890.24,399.22 L891.24,399.45 L892.29,399.63 L893.4,399.77 L894.54,399.86 L895.69,399.9 L896.86,399.9 L898.02,399.85 L899.15,399.75 L900.26,399.61 L901.31,399.42 L902.3,399.18 L903.22,398.91 L904.05,398.61 L904.8,398.27 L905.44,397.9 L905.96,397.52 L905.96,397.52 L918.02,399.58 L918.02,399.58 L917.61,399.99 L917.33,400.42 L917.17,400.86 L917.13,401.31 L917.22,401.75 L917.44,402.2 L917.78,402.63 L918.25,403.05 L918.82,403.44 L919.51,403.82 L920.3,404.16 L921.18,404.47 L922.14,404.74 L923.17,404.97 L924.26,405.16 L925.39,405.31 L926.56,405.4 L927.74,405.45 L928.93,405.44 L930.1,405.39 L931.25,405.29 L932.36,405.14 L933.41,404.95 L934.4,404.71 L935.31,404.43 L936.14,404.12 L936.86,403.77 L937.48,403.39 L937.99,402.99 L937.99,402.99 L950.42,405.12 L950.42,405.12 L950.05,405.54 L949.79,405.98 L949.66,406.44 L949.67,406.9 L949.8,407.36 L950.05,407.81 L950.44,408.26 L950.94,408.69 L951.56,409.1 L952.29,409.48 L953.12,409.84 L954.05,410.16 L955.05,410.44 L956.11,410.68 L957.24,410.87 L958.4,411.02 L959.6,411.12 L960.81,411.17 L962.01,411.16 L963.2,411.11 L964.36,411 L965.48,410.85 L966.53,410.65 L967.52,410.41 L968.43,410.12 L969.24,409.8 L969.95,409.44 L970.55,409.05 L971.03,408.64 L971.03,408.64 L983.86,410.83 L983.86,410.83 L983.63,411.11 L983.44,411.39 L983.31,411.68 L983.23,411.97 L983.2,412.27 L983.22,412.56 L983.29,412.86 L983.42,413.16 L983.6,413.46 L983.83,413.75 L984.11,414.04 L984.44,414.32 L984.81,414.6 L985.23,414.86 L985.7,415.12 L986.21,415.37 L986.75,415.6 L987.33,415.82 L987.95,416.02 L988.6,416.21 L989.27,416.38 L989.97,416.54 L990.7,416.67 L990.7,416.67 L986.01,421.72 L986.01,421.72 L984.81,421.54 L983.59,421.41 L982.35,421.33 L981.11,421.31 L979.88,421.34 L978.67,421.42 L977.51,421.55 L976.4,421.74 L975.35,421.97 L974.38,422.25 L973.49,422.58 L972.71,422.94 L972.03,423.34 L971.47,423.77 L971.04,424.23 L970.73,424.7 L970.55,425.19 L970.51,425.7 L970.6,426.2 L970.83,426.71 L971.2,427.2 L971.69,427.68 L972.3,428.15 L973.03,428.58 L973.87,428.99 L974.81,429.36 L975.84,429.69 L976.94,429.98 L978.11,430.22 L978.11,430.22 L973.11,435.6 L973.11,435.6 L971.88,435.4 L970.62,435.26 L969.35,435.18 L968.07,435.15 L966.8,435.18 L965.55,435.27 L964.34,435.41 L963.19,435.61 L962.1,435.86 L961.09,436.16 L960.17,436.51 L959.35,436.89 L958.64,437.32 L958.05,437.78 L957.58,438.26 L957.25,438.77 L957.05,439.29 L956.99,439.83 L957.07,440.37 L957.29,440.91 L957.65,441.44 L958.14,441.95 L958.76,442.45 L959.5,442.91 L960.35,443.35 L961.31,443.75 L962.36,444.1 L963.48,444.41 L964.68,444.67 L964.68,444.67 L959.34,450.41 L959.34,450.41 L958.08,450.2 L956.79,450.05 L955.47,449.96 L954.15,449.93 L952.84,449.96 L951.55,450.05 L950.3,450.21 L949.1,450.42 L947.97,450.68 L946.91,451 L945.95,451.37 L945.09,451.78 L944.34,452.24 L943.71,452.72 L943.22,453.24 L942.85,453.79 L942.63,454.35 L942.55,454.92 L942.61,455.5 L942.82,456.07 L943.17,456.64 L943.66,457.19 L944.29,457.72 L945.04,458.22 L945.9,458.69 L946.88,459.11 L947.95,459.49 L949.11,459.82 L950.33,460.1 L950.33,460.1 L944.62,466.25 L944.62,466.25 L943.81,466.1 L942.98,465.97 L942.14,465.87 L941.29,465.8 L940.43,465.75 L939.57,465.73 L938.71,465.74 L937.86,465.77 L937.01,465.82 L936.18,465.9 L935.36,466.01 L934.57,466.14 L933.79,466.3 L933.05,466.48 L932.34,466.68 L931.66,466.9 L931.02,467.15 L930.41,467.41 L929.85,467.7 L929.34,468 L928.88,468.31 L928.46,468.65 L928.1,468.99 L928.1,468.99 L913.87,466.09 L913.87,466.09 L914.35,465.53 L914.68,464.95 L914.87,464.36 L914.92,463.76 L914.82,463.16 L914.57,462.58 L914.18,462 L913.65,461.45 L913,460.93 L912.22,460.44 L911.33,459.99 L910.34,459.59 L909.26,459.23 L908.1,458.93 L906.87,458.68 L905.6,458.5 L904.29,458.37 L902.96,458.31 L901.62,458.31 L900.29,458.37 L898.99,458.5 L897.72,458.69 L896.51,458.93 L895.36,459.23 L894.3,459.59 L893.33,460 L892.46,460.44 L891.7,460.93 L891.07,461.46 L891.07,461.46 L877.35,458.66 L877.35,458.66 L877.86,458.12 L878.23,457.56 L878.47,456.99 L878.55,456.41 L878.5,455.83 L878.3,455.26 L877.97,454.71 L877.49,454.17 L876.89,453.67 L876.17,453.2 L875.33,452.76 L874.39,452.37 L873.35,452.03 L872.24,451.74 L871.06,451.5 L869.82,451.32 L868.54,451.2 L867.24,451.14 L865.93,451.14 L864.62,451.2 L863.33,451.32 L862.08,451.5 L860.87,451.74 L859.72,452.04 L858.65,452.38 L857.67,452.77 L856.78,453.21 L856,453.68 L855.34,454.18 L855.34,454.18 L842.09,451.49 L842.09,451.49 L842.63,450.96 L843.04,450.42 L843.32,449.87 L843.45,449.31 L843.44,448.75 L843.29,448.2 L843,447.66 L842.58,447.15 L842.02,446.66 L841.35,446.2 L840.56,445.78 L839.67,445.4 L838.68,445.07 L837.61,444.79 L836.46,444.56 L835.27,444.39 L834.02,444.27 L832.75,444.21 L831.46,444.21 L830.17,444.27 L828.9,444.39 L827.65,444.57 L826.45,444.8 L825.3,445.08 L824.22,445.42 L823.23,445.8 L822.32,446.22 L821.53,446.67 L820.84,447.16 L820.84,447.16 L808.04,444.56 L808.04,444.56 L808.42,444.24 L808.74,443.92 L809.01,443.58 L809.23,443.25 L809.4,442.91 L809.51,442.56 L809.57,442.22 L809.57,441.88 L809.51,441.55 L809.4,441.21 L809.24,440.89 L809.02,440.57 L808.75,440.26 L808.43,439.96 L808.06,439.68 L807.65,439.4 L807.19,439.15 L806.68,438.9 L806.14,438.68 L805.55,438.47 L804.93,438.28 L804.28,438.11 L803.6,437.96 L803.6,437.96 L810.64,432.57 L810.64,432.57 L811.77,432.76 L812.95,432.89 L814.17,432.97 L815.42,433 L816.67,432.97 L817.92,432.88 L819.16,432.74 L820.35,432.55 L821.5,432.31 L822.58,432.01 L823.59,431.68 L824.51,431.3 L825.33,430.89 L826.04,430.45 L826.63,429.99 L827.11,429.5 L827.45,429 L827.66,428.5 L827.74,427.99 L827.68,427.48 L827.49,426.99 L827.17,426.51 L826.72,426.06 L826.15,425.63 L825.47,425.23 L824.68,424.87 L823.79,424.55 L822.82,424.27 L821.78,424.04 L821.78,424.04 L828.39,418.98 L828.39,418.98 L829.49,419.15 L830.64,419.28 L831.83,419.36 L833.04,419.38 L834.26,419.35 L835.47,419.27 L836.65,419.14 L837.81,418.96 L838.91,418.73 L839.95,418.45 L840.91,418.14 L841.79,417.78 L842.57,417.4 L843.24,416.98 L843.8,416.55 L844.24,416.09 L844.55,415.62 L844.74,415.15 L844.79,414.67 L844.72,414.2 L844.51,413.74 L844.18,413.29 L843.73,412.86 L843.16,412.46 L842.48,412.08 L841.7,411.75 L840.83,411.44 L839.88,411.18 L838.85,410.97 L838.85,410.97 L845.07,406.21 L845.07,406.21 L846.15,406.37 L847.27,406.49 L848.42,406.56 L849.6,406.58 L850.78,406.56 L851.95,406.48 L853.1,406.35 L854.21,406.18 L855.27,405.96 L856.27,405.71 L857.19,405.41 L858.03,405.08 L858.77,404.71 L859.41,404.32 L859.94,403.91 L860.35,403.48 L860.63,403.04 L860.79,402.59 L860.83,402.15 L860.74,401.7 L860.52,401.27 L860.18,400.85 L859.73,400.44 L859.16,400.07 L858.49,399.71 L857.72,399.4 L856.86,399.11 L855.92,398.87 L854.92,398.67 L854.92,398.67 L860.78,394.18Z" fill="#000" fill-opacity="0.28" filter="url(#blur1)"/>
<path d="M860.18,366.78 L860.84,366.88 L861.51,366.97 L862.21,367.04 L862.91,367.09 L863.62,367.12 L864.34,367.13 L865.07,367.13 L865.79,367.1 L866.51,367.06 L867.22,367 L867.91,366.92 L868.6,366.83 L869.26,366.71 L869.91,366.58 L870.53,366.44 L871.12,366.28 L871.69,366.1 L872.22,365.92 L872.71,365.72 L873.17,365.5 L873.59,365.28 L873.97,365.05 L874.31,364.81 L874.31,390.81 L873.97,391.05 L873.59,391.28 L873.17,391.5 L872.71,391.72 L872.22,391.92 L871.69,392.1 L871.12,392.28 L870.53,392.44 L869.91,392.58 L869.26,392.71 L868.6,392.83 L867.91,392.92 L867.22,393 L866.51,393.06 L865.79,393.1 L865.07,393.13 L864.34,393.13 L863.62,393.12 L862.91,393.09 L862.21,393.04 L861.51,392.97 L860.84,392.88 L860.18,392.78Z" fill="url(#gw)" stroke="#2a2f45" stroke-width="0.8" stroke-linejoin="round"/>
<path d="M886,366.8 L885.57,367.21 L885.25,367.62 L885.06,368.05 L884.99,368.49 L885.04,368.92 L885.22,369.35 L885.53,369.77 L885.95,370.17 L886.49,370.56 L887.13,370.92 L887.88,371.26 L888.72,371.56 L889.64,371.82 L890.64,372.05 L891.69,372.23 L892.8,372.37 L893.94,372.46 L895.09,372.5 L896.26,372.5 L897.42,372.45 L898.55,372.35 L899.66,372.21 L900.71,372.02 L901.7,371.78 L902.62,371.51 L903.45,371.21 L904.2,370.87 L904.84,370.5 L905.36,370.12 L905.36,396.12 L904.84,396.5 L904.2,396.87 L903.45,397.21 L902.62,397.51 L901.7,397.78 L900.71,398.02 L899.66,398.21 L898.55,398.35 L897.42,398.45 L896.26,398.5 L895.09,398.5 L893.94,398.46 L892.8,398.37 L891.69,398.23 L890.64,398.05 L889.64,397.82 L888.72,397.56 L887.88,397.26 L887.13,396.92 L886.49,396.56 L885.95,396.17 L885.53,395.77 L885.22,395.35 L885.04,394.92 L884.99,394.49 L885.06,394.05 L885.25,393.62 L885.57,393.21 L886,392.8Z" fill="url(#gw)" stroke="#2a2f45" stroke-width="0.8" stroke-linejoin="round"/>
<path d="M917.42,372.18 L917.01,372.59 L916.73,373.02 L916.57,373.46 L916.53,373.91 L916.62,374.35 L916.84,374.8 L917.18,375.23 L917.65,375.65 L918.22,376.04 L918.91,376.42 L919.7,376.76 L920.58,377.07 L921.54,377.34 L922.57,377.57 L923.66,377.76 L924.79,377.91 L925.96,378 L927.14,378.05 L928.33,378.04 L929.5,377.99 L930.65,377.89 L931.76,377.74 L932.81,377.55 L933.8,377.31 L934.71,377.03 L935.54,376.72 L936.26,376.37 L936.88,375.99 L937.39,375.59 L937.39,401.59 L936.88,401.99 L936.26,402.37 L935.54,402.72 L934.71,403.03 L933.8,403.31 L932.81,403.55 L931.76,403.74 L930.65,403.89 L929.5,403.99 L928.33,404.04 L927.14,404.05 L925.96,404 L924.79,403.91 L923.66,403.76 L922.57,403.57 L921.54,403.34 L920.58,403.07 L919.7,402.76 L918.91,402.42 L918.22,402.04 L917.65,401.65 L917.18,401.23 L916.84,400.8 L916.62,400.35 L916.53,399.91 L916.57,399.46 L916.73,399.02 L917.01,398.59 L917.42,398.18Z" fill="url(#gw)" stroke="#2a2f45" stroke-width="0.8" stroke-linejoin="round"/>
<path d="M949.82,377.72 L949.45,378.14 L949.19,378.58 L949.06,379.04 L949.07,379.5 L949.2,379.96 L949.45,380.41 L949.84,380.86 L950.34,381.29 L950.96,381.7 L951.69,382.08 L952.52,382.44 L953.45,382.76 L954.45,383.04 L955.51,383.28 L956.64,383.47 L957.8,383.62 L959,383.72 L960.21,383.77 L961.41,383.76 L962.6,383.71 L963.76,383.6 L964.88,383.45 L965.93,383.25 L966.92,383.01 L967.83,382.72 L968.64,382.4 L969.35,382.04 L969.95,381.65 L970.43,381.24 L970.43,407.24 L969.95,407.65 L969.35,408.04 L968.64,408.4 L967.83,408.72 L966.92,409.01 L965.93,409.25 L964.88,409.45 L963.76,409.6 L962.6,409.71 L961.41,409.76 L960.21,409.77 L959,409.72 L957.8,409.62 L956.64,409.47 L955.51,409.28 L954.45,409.04 L953.45,408.76 L952.52,408.44 L951.69,408.08 L950.96,407.7 L950.34,407.29 L949.84,406.86 L949.45,406.41 L949.2,405.96 L949.07,405.5 L949.06,405.04 L949.19,404.58 L949.45,404.14 L949.82,403.72Z" fill="url(#gw)" stroke="#2a2f45" stroke-width="0.8" stroke-linejoin="round"/>
<path d="M810.04,405.17 L811.17,405.36 L812.35,405.49 L813.57,405.57 L814.82,405.6 L816.07,405.57 L817.32,405.48 L818.56,405.34 L819.75,405.15 L820.9,404.91 L821.98,404.61 L822.99,404.28 L823.91,403.9 L824.73,403.49 L825.44,403.05 L826.03,402.59 L826.51,402.1 L826.85,401.6 L827.06,401.1 L827.14,400.59 L827.08,400.08 L826.89,399.59 L826.57,399.11 L826.12,398.66 L825.55,398.23 L824.87,397.83 L824.08,397.47 L823.19,397.15 L822.22,396.87 L821.18,396.64 L821.18,422.64 L822.22,422.87 L823.19,423.15 L824.08,423.47 L824.87,423.83 L825.55,424.23 L826.12,424.66 L826.57,425.11 L826.89,425.59 L827.08,426.08 L827.14,426.59 L827.06,427.1 L826.85,427.6 L826.51,428.1 L826.03,428.59 L825.44,429.05 L824.73,429.49 L823.91,429.9 L822.99,430.28 L821.98,430.61 L820.9,430.91 L819.75,431.15 L818.56,431.34 L817.32,431.48 L816.07,431.57 L814.82,431.6 L813.57,431.57 L812.35,431.49 L811.17,431.36 L810.04,431.17Z" fill="url(#gw)" stroke="#2a2f45" stroke-width="0.8" stroke-linejoin="round"/>
<path d="M827.79,391.58 L828.89,391.75 L830.04,391.88 L831.23,391.96 L832.44,391.98 L833.66,391.95 L834.87,391.87 L836.05,391.74 L837.21,391.56 L838.31,391.33 L839.35,391.05 L840.31,390.74 L841.19,390.38 L841.97,390 L842.64,389.58 L843.2,389.15 L843.64,388.69 L843.95,388.22 L844.14,387.75 L844.19,387.27 L844.12,386.8 L843.91,386.34 L843.58,385.89 L843.13,385.46 L842.56,385.06 L841.88,384.68 L841.1,384.35 L840.23,384.04 L839.28,383.78 L838.25,383.57 L838.25,409.57 L839.28,409.78 L840.23,410.04 L841.1,410.35 L841.88,410.68 L842.56,411.06 L843.13,411.46 L843.58,411.89 L843.91,412.34 L844.12,412.8 L844.19,413.27 L844.14,413.75 L843.95,414.22 L843.64,414.69 L843.2,415.15 L842.64,415.58 L841.97,416 L841.19,416.38 L840.31,416.74 L839.35,417.05 L838.31,417.33 L837.21,417.56 L836.05,417.74 L834.87,417.87 L833.66,417.95 L832.44,417.98 L831.23,417.96 L830.04,417.88 L828.89,417.75 L827.79,417.58Z" fill="url(#gw)" stroke="#2a2f45" stroke-width="0.8" stroke-linejoin="round"/>
<path d="M844.47,378.81 L845.55,378.97 L846.67,379.09 L847.82,379.16 L849,379.18 L850.18,379.16 L851.35,379.08 L852.5,378.95 L853.61,378.78 L854.67,378.56 L855.67,378.31 L856.59,378.01 L857.43,377.68 L858.17,377.31 L858.81,376.92 L859.34,376.51 L859.75,376.08 L860.03,375.64 L860.19,375.19 L860.23,374.75 L860.14,374.3 L859.92,373.87 L859.58,373.45 L859.13,373.04 L858.56,372.67 L857.89,372.31 L857.12,372 L856.26,371.71 L855.32,371.47 L854.32,371.27 L854.32,397.27 L855.32,397.47 L856.26,397.71 L857.12,398 L857.89,398.31 L858.56,398.67 L859.13,399.04 L859.58,399.45 L859.92,399.87 L860.14,400.3 L860.23,400.75 L860.19,401.19 L860.03,401.64 L859.75,402.08 L859.34,402.51 L858.81,402.92 L858.17,403.31 L857.43,403.68 L856.59,404.01 L855.67,404.31 L854.67,404.56 L853.61,404.78 L852.5,404.95 L851.35,405.08 L850.18,405.16 L849,405.18 L847.82,405.16 L846.67,405.09 L845.55,404.97 L844.47,404.81Z" fill="url(#gw)" stroke="#2a2f45" stroke-width="0.8" stroke-linejoin="round"/>
<path d="M983.26,383.43 L983.03,383.71 L982.84,383.99 L982.71,384.28 L982.63,384.57 L982.6,384.87 L982.62,385.16 L982.69,385.46 L982.82,385.76 L983,386.06 L983.23,386.35 L983.51,386.64 L983.84,386.92 L984.21,387.2 L984.63,387.46 L985.1,387.72 L985.61,387.97 L986.15,388.2 L986.73,388.42 L987.35,388.62 L988,388.81 L988.67,388.98 L989.37,389.14 L990.1,389.27 L990.1,415.27 L989.37,415.14 L988.67,414.98 L988,414.81 L987.35,414.62 L986.73,414.42 L986.15,414.2 L985.61,413.97 L985.1,413.72 L984.63,413.46 L984.21,413.2 L983.84,412.92 L983.51,412.64 L983.23,412.35 L983,412.06 L982.82,411.76 L982.69,411.46 L982.62,411.16 L982.6,410.87 L982.63,410.57 L982.71,410.28 L982.84,409.99 L983.03,409.71 L983.26,409.43Z" fill="url(#gw)" stroke="#2a2f45" stroke-width="0.8" stroke-linejoin="round"/>
<path d="M807.44,417.16 L807.82,416.84 L808.14,416.52 L808.41,416.18 L808.63,415.85 L808.8,415.51 L808.91,415.16 L808.97,414.82 L808.97,414.48 L808.91,414.15 L808.8,413.81 L808.64,413.49 L808.42,413.17 L808.15,412.86 L807.83,412.56 L807.46,412.28 L807.05,412 L806.59,411.75 L806.08,411.5 L805.54,411.28 L804.95,411.07 L804.33,410.88 L803.68,410.71 L803,410.56 L803,436.56 L803.68,436.71 L804.33,436.88 L804.95,437.07 L805.54,437.28 L806.08,437.5 L806.59,437.75 L807.05,438 L807.46,438.28 L807.83,438.56 L808.15,438.86 L808.42,439.17 L808.64,439.49 L808.8,439.81 L808.91,440.15 L808.97,440.48 L808.97,440.82 L808.91,441.16 L808.8,441.51 L808.63,441.85 L808.41,442.18 L808.14,442.52 L807.82,442.84 L807.44,443.16Z" fill="url(#gw)" stroke="#2a2f45" stroke-width="0.8" stroke-linejoin="round"/>
<path d="M985.41,394.32 L984.21,394.14 L982.99,394.01 L981.75,393.93 L980.51,393.91 L979.28,393.94 L978.07,394.02 L976.91,394.15 L975.8,394.34 L974.75,394.57 L973.78,394.85 L972.89,395.18 L972.11,395.54 L971.43,395.94 L970.87,396.37 L970.44,396.83 L970.13,397.3 L969.95,397.79 L969.91,398.3 L970,398.8 L970.23,399.31 L970.6,399.8 L971.09,400.28 L971.7,400.75 L972.43,401.18 L973.27,401.59 L974.21,401.96 L975.24,402.29 L976.34,402.58 L977.51,402.82 L977.51,428.82 L976.34,428.58 L975.24,428.29 L974.21,427.96 L973.27,427.59 L972.43,427.18 L971.7,426.75 L971.09,426.28 L970.6,425.8 L970.23,425.31 L970,424.8 L969.91,424.3 L969.95,423.79 L970.13,423.3 L970.44,422.83 L970.87,422.37 L971.43,421.94 L972.11,421.54 L972.89,421.18 L973.78,420.85 L974.75,420.57 L975.8,420.34 L976.91,420.15 L978.07,420.02 L979.28,419.94 L980.51,419.91 L981.75,419.93 L982.99,420.01 L984.21,420.14 L985.41,420.32Z" fill="url(#gw)" stroke="#2a2f45" stroke-width="0.8" stroke-linejoin="round"/>
<path d="M972.51,408.2 L971.28,408 L970.02,407.86 L968.75,407.78 L967.47,407.75 L966.2,407.78 L964.95,407.87 L963.74,408.01 L962.59,408.21 L961.5,408.46 L960.49,408.76 L959.57,409.11 L958.75,409.49 L958.04,409.92 L957.45,410.38 L956.98,410.86 L956.65,411.37 L956.45,411.89 L956.39,412.43 L956.47,412.97 L956.69,413.51 L957.05,414.04 L957.54,414.55 L958.16,415.05 L958.9,415.51 L959.75,415.95 L960.71,416.35 L961.76,416.7 L962.88,417.01 L964.08,417.27 L964.08,443.27 L962.88,443.01 L961.76,442.7 L960.71,442.35 L959.75,441.95 L958.9,441.51 L958.16,441.05 L957.54,440.55 L957.05,440.04 L956.69,439.51 L956.47,438.97 L956.39,438.43 L956.45,437.89 L956.65,437.37 L956.98,436.86 L957.45,436.38 L958.04,435.92 L958.75,435.49 L959.57,435.11 L960.49,434.76 L961.5,434.46 L962.59,434.21 L963.74,434.01 L964.95,433.87 L966.2,433.78 L967.47,433.75 L968.75,433.78 L970.02,433.86 L971.28,434 L972.51,434.2Z" fill="url(#gw)" stroke="#2a2f45" stroke-width="0.8" stroke-linejoin="round"/>
<path d="M958.74,423.01 L957.48,422.8 L956.19,422.65 L954.87,422.56 L953.55,422.53 L952.24,422.56 L950.95,422.65 L949.7,422.81 L948.5,423.02 L947.37,423.28 L946.31,423.6 L945.35,423.97 L944.49,424.38 L943.74,424.84 L943.11,425.32 L942.62,425.84 L942.25,426.39 L942.03,426.95 L941.95,427.52 L942.01,428.1 L942.22,428.67 L942.57,429.24 L943.06,429.79 L943.69,430.32 L944.44,430.82 L945.3,431.29 L946.28,431.71 L947.35,432.09 L948.51,432.42 L949.73,432.7 L949.73,458.7 L948.51,458.42 L947.35,458.09 L946.28,457.71 L945.3,457.29 L944.44,456.82 L943.69,456.32 L943.06,455.79 L942.57,455.24 L942.22,454.67 L942.01,454.1 L941.95,453.52 L942.03,452.95 L942.25,452.39 L942.62,451.84 L943.11,451.32 L943.74,450.84 L944.49,450.38 L945.35,449.97 L946.31,449.6 L947.37,449.28 L948.5,449.02 L949.7,448.81 L950.95,448.65 L952.24,448.56 L953.55,448.53 L954.87,448.56 L956.19,448.65 L957.48,448.8 L958.74,449.01Z" fill="url(#gw)" stroke="#2a2f45" stroke-width="0.8" stroke-linejoin="round"/>
<path d="M944.02,438.85 L943.21,438.7 L942.38,438.57 L941.54,438.47 L940.69,438.4 L939.83,438.35 L938.97,438.33 L938.11,438.34 L937.26,438.37 L936.41,438.42 L935.58,438.5 L934.76,438.61 L933.97,438.74 L933.19,438.9 L932.45,439.08 L931.74,439.28 L931.06,439.5 L930.42,439.75 L929.81,440.01 L929.25,440.3 L928.74,440.6 L928.28,440.91 L927.86,441.25 L927.5,441.59 L927.5,467.59 L927.86,467.25 L928.28,466.91 L928.74,466.6 L929.25,466.3 L929.81,466.01 L930.42,465.75 L931.06,465.5 L931.74,465.28 L932.45,465.08 L933.19,464.9 L933.97,464.74 L934.76,464.61 L935.58,464.5 L936.41,464.42 L937.26,464.37 L938.11,464.34 L938.97,464.33 L939.83,464.35 L940.69,464.4 L941.54,464.47 L942.38,464.57 L943.21,464.7 L944.02,464.85Z" fill="url(#gw)" stroke="#2a2f45" stroke-width="0.8" stroke-linejoin="round"/>
<path d="M913.27,438.69 L913.75,438.13 L914.08,437.55 L914.27,436.96 L914.32,436.36 L914.22,435.76 L913.97,435.18 L913.58,434.6 L913.05,434.05 L912.4,433.53 L911.62,433.04 L910.73,432.59 L909.74,432.19 L908.66,431.83 L907.5,431.53 L906.27,431.28 L905,431.1 L903.69,430.97 L902.36,430.91 L901.02,430.91 L899.69,430.97 L898.39,431.1 L897.12,431.29 L895.91,431.53 L894.76,431.83 L893.7,432.19 L892.73,432.6 L891.86,433.04 L891.1,433.53 L890.47,434.06 L890.47,460.06 L891.1,459.53 L891.86,459.04 L892.73,458.6 L893.7,458.19 L894.76,457.83 L895.91,457.53 L897.12,457.29 L898.39,457.1 L899.69,456.97 L901.02,456.91 L902.36,456.91 L903.69,456.97 L905,457.1 L906.27,457.28 L907.5,457.53 L908.66,457.83 L909.74,458.19 L910.73,458.59 L911.62,459.04 L912.4,459.53 L913.05,460.05 L913.58,460.6 L913.97,461.18 L914.22,461.76 L914.32,462.36 L914.27,462.96 L914.08,463.55 L913.75,464.13 L913.27,464.69Z" fill="url(#gw)" stroke="#2a2f45" stroke-width="0.8" stroke-linejoin="round"/>
<path d="M876.75,431.26 L877.26,430.72 L877.63,430.16 L877.87,429.59 L877.95,429.01 L877.9,428.43 L877.7,427.86 L877.37,427.31 L876.89,426.77 L876.29,426.27 L875.57,425.8 L874.73,425.36 L873.79,424.97 L872.75,424.63 L871.64,424.34 L870.46,424.1 L869.22,423.92 L867.94,423.8 L866.64,423.74 L865.33,423.74 L864.02,423.8 L862.73,423.92 L861.48,424.1 L860.27,424.34 L859.12,424.64 L858.05,424.98 L857.07,425.37 L856.18,425.81 L855.4,426.28 L854.74,426.78 L854.74,452.78 L855.4,452.28 L856.18,451.81 L857.07,451.37 L858.05,450.98 L859.12,450.64 L860.27,450.34 L861.48,450.1 L862.73,449.92 L864.02,449.8 L865.33,449.74 L866.64,449.74 L867.94,449.8 L869.22,449.92 L870.46,450.1 L871.64,450.34 L872.75,450.63 L873.79,450.97 L874.73,451.36 L875.57,451.8 L876.29,452.27 L876.89,452.77 L877.37,453.31 L877.7,453.86 L877.9,454.43 L877.95,455.01 L877.87,455.59 L877.63,456.16 L877.26,456.72 L876.75,457.26Z" fill="url(#gw)" stroke="#2a2f45" stroke-width="0.8" stroke-linejoin="round"/>
<path d="M841.49,424.09 L842.03,423.56 L842.44,423.02 L842.72,422.47 L842.85,421.91 L842.84,421.35 L842.69,420.8 L842.4,420.26 L841.98,419.75 L841.42,419.26 L840.75,418.8 L839.96,418.38 L839.07,418 L838.08,417.67 L837.01,417.39 L835.86,417.16 L834.67,416.99 L833.42,416.87 L832.15,416.81 L830.86,416.81 L829.57,416.87 L828.3,416.99 L827.05,417.17 L825.85,417.4 L824.7,417.68 L823.62,418.02 L822.63,418.4 L821.72,418.82 L820.93,419.27 L820.24,419.76 L820.24,445.76 L820.93,445.27 L821.72,444.82 L822.63,444.4 L823.62,444.02 L824.7,443.68 L825.85,443.4 L827.05,443.17 L828.3,442.99 L829.57,442.87 L830.86,442.81 L832.15,442.81 L833.42,442.87 L834.67,442.99 L835.86,443.16 L837.01,443.39 L838.08,443.67 L839.07,444 L839.96,444.38 L840.75,444.8 L841.42,445.26 L841.98,445.75 L842.4,446.26 L842.69,446.8 L842.84,447.35 L842.85,447.91 L842.72,448.47 L842.44,449.02 L842.03,449.56 L841.49,450.09Z" fill="url(#gw)" stroke="#2a2f45" stroke-width="0.8" stroke-linejoin="round"/>
<path d="M990.1,389.27 L985.41,394.32 L985.41,420.32 L990.1,415.27Z" fill="#7886c4" stroke="#2a2f45" stroke-width="0.8" stroke-linejoin="round"/>
<path d="M977.51,402.82 L972.51,408.2 L972.51,434.2 L977.51,428.82Z" fill="#7886c4" stroke="#2a2f45" stroke-width="0.8" stroke-linejoin="round"/>
<path d="M964.08,417.27 L958.74,423.01 L958.74,449.01 L964.08,443.27Z" fill="#7886c4" stroke="#2a2f45" stroke-width="0.8" stroke-linejoin="round"/>
<path d="M949.73,432.7 L944.02,438.85 L944.02,464.85 L949.73,458.7Z" fill="#7886c4" stroke="#2a2f45" stroke-width="0.8" stroke-linejoin="round"/>
<path d="M927.5,441.59 L913.27,438.69 L913.27,464.69 L927.5,467.59Z" fill="#6c79b3" stroke="#2a2f45" stroke-width="0.8" stroke-linejoin="round"/>
<path d="M890.47,434.06 L876.75,431.26 L876.75,457.26 L890.47,460.06Z" fill="#6c79b3" stroke="#2a2f45" stroke-width="0.8" stroke-linejoin="round"/>
<path d="M854.74,426.78 L841.49,424.09 L841.49,450.09 L854.74,452.78Z" fill="#6c79b3" stroke="#2a2f45" stroke-width="0.8" stroke-linejoin="round"/>
<path d="M820.24,419.76 L807.44,417.16 L807.44,443.16 L820.24,445.76Z" fill="#6c79b3" stroke="#2a2f45" stroke-width="0.8" stroke-linejoin="round"/>
<path d="M860.18,366.78 L860.84,366.88 L861.51,366.97 L862.21,367.04 L862.91,367.09 L863.62,367.12 L864.34,367.13 L865.07,367.13 L865.79,367.1 L866.51,367.06 L867.22,367 L867.91,366.92 L868.6,366.83 L869.26,366.71 L869.91,366.58 L870.53,366.44 L871.12,366.28 L871.69,366.1 L872.22,365.92 L872.71,365.72 L873.17,365.5 L873.59,365.28 L873.97,365.05 L874.31,364.81 L874.31,364.81 L886,366.8 L886,366.8 L885.57,367.21 L885.25,367.62 L885.06,368.05 L884.99,368.49 L885.04,368.92 L885.22,369.35 L885.53,369.77 L885.95,370.17 L886.49,370.56 L887.13,370.92 L887.88,371.26 L888.72,371.56 L889.64,371.82 L890.64,372.05 L891.69,372.23 L892.8,372.37 L893.94,372.46 L895.09,372.5 L896.26,372.5 L897.42,372.45 L898.55,372.35 L899.66,372.21 L900.71,372.02 L901.7,371.78 L902.62,371.51 L903.45,371.21 L904.2,370.87 L904.84,370.5 L905.36,370.12 L905.36,370.12 L917.42,372.18 L917.42,372.18 L917.01,372.59 L916.73,373.02 L916.57,373.46 L916.53,373.91 L916.62,374.35 L916.84,374.8 L917.18,375.23 L917.65,375.65 L918.22,376.04 L918.91,376.42 L919.7,376.76 L920.58,377.07 L921.54,377.34 L922.57,377.57 L923.66,377.76 L924.79,377.91 L925.96,378 L927.14,378.05 L928.33,378.04 L929.5,377.99 L930.65,377.89 L931.76,377.74 L932.81,377.55 L933.8,377.31 L934.71,377.03 L935.54,376.72 L936.26,376.37 L936.88,375.99 L937.39,375.59 L937.39,375.59 L949.82,377.72 L949.82,377.72 L949.45,378.14 L949.19,378.58 L949.06,379.04 L949.07,379.5 L949.2,379.96 L949.45,380.41 L949.84,380.86 L950.34,381.29 L950.96,381.7 L951.69,382.08 L952.52,382.44 L953.45,382.76 L954.45,383.04 L955.51,383.28 L956.64,383.47 L957.8,383.62 L959,383.72 L960.21,383.77 L961.41,383.76 L962.6,383.71 L963.76,383.6 L964.88,383.45 L965.93,383.25 L966.92,383.01 L967.83,382.72 L968.64,382.4 L969.35,382.04 L969.95,381.65 L970.43,381.24 L970.43,381.24 L983.26,383.43 L983.26,383.43 L983.03,383.71 L982.84,383.99 L982.71,384.28 L982.63,384.57 L982.6,384.87 L982.62,385.16 L982.69,385.46 L982.82,385.76 L983,386.06 L983.23,386.35 L983.51,386.64 L983.84,386.92 L984.21,387.2 L984.63,387.46 L985.1,387.72 L985.61,387.97 L986.15,388.2 L986.73,388.42 L987.35,388.62 L988,388.81 L988.67,388.98 L989.37,389.14 L990.1,389.27 L990.1,389.27 L985.41,394.32 L985.41,394.32 L984.21,394.14 L982.99,394.01 L981.75,393.93 L980.51,393.91 L979.28,393.94 L978.07,394.02 L976.91,394.15 L975.8,394.34 L974.75,394.57 L973.78,394.85 L972.89,395.18 L972.11,395.54 L971.43,395.94 L970.87,396.37 L970.44,396.83 L970.13,397.3 L969.95,397.79 L969.91,398.3 L970,398.8 L970.23,399.31 L970.6,399.8 L971.09,400.28 L971.7,400.75 L972.43,401.18 L973.27,401.59 L974.21,401.96 L975.24,402.29 L976.34,402.58 L977.51,402.82 L977.51,402.82 L972.51,408.2 L972.51,408.2 L971.28,408 L970.02,407.86 L968.75,407.78 L967.47,407.75 L966.2,407.78 L964.95,407.87 L963.74,408.01 L962.59,408.21 L961.5,408.46 L960.49,408.76 L959.57,409.11 L958.75,409.49 L958.04,409.92 L957.45,410.38 L956.98,410.86 L956.65,411.37 L956.45,411.89 L956.39,412.43 L956.47,412.97 L956.69,413.51 L957.05,414.04 L957.54,414.55 L958.16,415.05 L958.9,415.51 L959.75,415.95 L960.71,416.35 L961.76,416.7 L962.88,417.01 L964.08,417.27 L964.08,417.27 L958.74,423.01 L958.74,423.01 L957.48,422.8 L956.19,422.65 L954.87,422.56 L953.55,422.53 L952.24,422.56 L950.95,422.65 L949.7,422.81 L948.5,423.02 L947.37,423.28 L946.31,423.6 L945.35,423.97 L944.49,424.38 L943.74,424.84 L943.11,425.32 L942.62,425.84 L942.25,426.39 L942.03,426.95 L941.95,427.52 L942.01,428.1 L942.22,428.67 L942.57,429.24 L943.06,429.79 L943.69,430.32 L944.44,430.82 L945.3,431.29 L946.28,431.71 L947.35,432.09 L948.51,432.42 L949.73,432.7 L949.73,432.7 L944.02,438.85 L944.02,438.85 L943.21,438.7 L942.38,438.57 L941.54,438.47 L940.69,438.4 L939.83,438.35 L938.97,438.33 L938.11,438.34 L937.26,438.37 L936.41,438.42 L935.58,438.5 L934.76,438.61 L933.97,438.74 L933.19,438.9 L932.45,439.08 L931.74,439.28 L931.06,439.5 L930.42,439.75 L929.81,440.01 L929.25,440.3 L928.74,440.6 L928.28,440.91 L927.86,441.25 L927.5,441.59 L927.5,441.59 L913.27,438.69 L913.27,438.69 L913.75,438.13 L914.08,437.55 L914.27,436.96 L914.32,436.36 L914.22,435.76 L913.97,435.18 L913.58,434.6 L913.05,434.05 L912.4,433.53 L911.62,433.04 L910.73,432.59 L909.74,432.19 L908.66,431.83 L907.5,431.53 L906.27,431.28 L905,431.1 L903.69,430.97 L902.36,430.91 L901.02,430.91 L899.69,430.97 L898.39,431.1 L897.12,431.29 L895.91,431.53 L894.76,431.83 L893.7,432.19 L892.73,432.6 L891.86,433.04 L891.1,433.53 L890.47,434.06 L890.47,434.06 L876.75,431.26 L876.75,431.26 L877.26,430.72 L877.63,430.16 L877.87,429.59 L877.95,429.01 L877.9,428.43 L877.7,427.86 L877.37,427.31 L876.89,426.77 L876.29,426.27 L875.57,425.8 L874.73,425.36 L873.79,424.97 L872.75,424.63 L871.64,424.34 L870.46,424.1 L869.22,423.92 L867.94,423.8 L866.64,423.74 L865.33,423.74 L864.02,423.8 L862.73,423.92 L861.48,424.1 L860.27,424.34 L859.12,424.64 L858.05,424.98 L857.07,425.37 L856.18,425.81 L855.4,426.28 L854.74,426.78 L854.74,426.78 L841.49,424.09 L841.49,424.09 L842.03,423.56 L842.44,423.02 L842.72,422.47 L842.85,421.91 L842.84,421.35 L842.69,420.8 L842.4,420.26 L841.98,419.75 L841.42,419.26 L840.75,418.8 L839.96,418.38 L839.07,418 L838.08,417.67 L837.01,417.39 L835.86,417.16 L834.67,416.99 L833.42,416.87 L832.15,416.81 L830.86,416.81 L829.57,416.87 L828.3,416.99 L827.05,417.17 L825.85,417.4 L824.7,417.68 L823.62,418.02 L822.63,418.4 L821.72,418.82 L820.93,419.27 L820.24,419.76 L820.24,419.76 L807.44,417.16 L807.44,417.16 L807.82,416.84 L808.14,416.52 L808.41,416.18 L808.63,415.85 L808.8,415.51 L808.91,415.16 L808.97,414.82 L808.97,414.48 L808.91,414.15 L808.8,413.81 L808.64,413.49 L808.42,413.17 L808.15,412.86 L807.83,412.56 L807.46,412.28 L807.05,412 L806.59,411.75 L806.08,411.5 L805.54,411.28 L804.95,411.07 L804.33,410.88 L803.68,410.71 L803,410.56 L803,410.56 L810.04,405.17 L810.04,405.17 L811.17,405.36 L812.35,405.49 L813.57,405.57 L814.82,405.6 L816.07,405.57 L817.32,405.48 L818.56,405.34 L819.75,405.15 L820.9,404.91 L821.98,404.61 L822.99,404.28 L823.91,403.9 L824.73,403.49 L825.44,403.05 L826.03,402.59 L826.51,402.1 L826.85,401.6 L827.06,401.1 L827.14,400.59 L827.08,400.08 L826.89,399.59 L826.57,399.11 L826.12,398.66 L825.55,398.23 L824.87,397.83 L824.08,397.47 L823.19,397.15 L822.22,396.87 L821.18,396.64 L821.18,396.64 L827.79,391.58 L827.79,391.58 L828.89,391.75 L830.04,391.88 L831.23,391.96 L832.44,391.98 L833.66,391.95 L834.87,391.87 L836.05,391.74 L837.21,391.56 L838.31,391.33 L839.35,391.05 L840.31,390.74 L841.19,390.38 L841.97,390 L842.64,389.58 L843.2,389.15 L843.64,388.69 L843.95,388.22 L844.14,387.75 L844.19,387.27 L844.12,386.8 L843.91,386.34 L843.58,385.89 L843.13,385.46 L842.56,385.06 L841.88,384.68 L841.1,384.35 L840.23,384.04 L839.28,383.78 L838.25,383.57 L838.25,383.57 L844.47,378.81 L844.47,378.81 L845.55,378.97 L846.67,379.09 L847.82,379.16 L849,379.18 L850.18,379.16 L851.35,379.08 L852.5,378.95 L853.61,378.78 L854.67,378.56 L855.67,378.31 L856.59,378.01 L857.43,377.68 L858.17,377.31 L858.81,376.92 L859.34,376.51 L859.75,376.08 L860.03,375.64 L860.19,375.19 L860.23,374.75 L860.14,374.3 L859.92,373.87 L859.58,373.45 L859.13,373.04 L858.56,372.67 L857.89,372.31 L857.12,372 L856.26,371.71 L855.32,371.47 L854.32,371.27 L854.32,371.27 L860.18,366.78ZM890.85,382.38 L890.14,382.89 L889.27,383.35 L888.24,383.77 L887.08,384.13 L885.8,384.43 L884.44,384.66 L883.01,384.82 L881.54,384.9 L880.06,384.91 L878.59,384.83 L877.17,384.68 L875.82,384.46 L874.56,384.17 L873.41,383.81 L872.41,383.4 L871.55,382.94 L870.87,382.44 L870.37,381.9 L870.06,381.35 L869.94,380.78 L870.01,380.21 L870.29,379.65 L870.74,379.11 L871.38,378.6 L872.19,378.12 L873.15,377.69 L874.24,377.31 L875.45,376.99 L876.75,376.73 L878.13,376.54 L879.55,376.43 L881,376.39 L882.44,376.42 L883.86,376.53 L885.23,376.7 L886.52,376.95 L887.72,377.27 L888.8,377.64 L889.73,378.06 L890.52,378.54 L891.13,379.05 L891.57,379.59 L891.81,380.15 L891.86,380.71 L891.72,381.28 L891.38,381.84ZM875.43,395.41 L874.68,395.95 L873.76,396.45 L872.68,396.89 L871.47,397.28 L870.14,397.59 L868.73,397.84 L867.25,398.01 L865.73,398.09 L864.2,398.09 L862.7,398.02 L861.24,397.86 L859.85,397.62 L858.56,397.31 L857.4,396.93 L856.38,396.49 L855.52,395.99 L854.84,395.46 L854.34,394.89 L854.04,394.3 L853.94,393.7 L854.05,393.09 L854.35,392.49 L854.84,391.92 L855.52,391.37 L856.37,390.87 L857.37,390.41 L858.51,390 L859.77,389.66 L861.13,389.39 L862.55,389.19 L864.02,389.07 L865.51,389.03 L867,389.06 L868.46,389.18 L869.86,389.37 L871.18,389.63 L872.4,389.97 L873.5,390.37 L874.45,390.82 L875.24,391.32 L875.85,391.87 L876.28,392.44 L876.51,393.03 L876.54,393.64 L876.37,394.25 L875.99,394.84ZM859.01,409.29 L858.21,409.86 L857.24,410.39 L856.12,410.86 L854.85,411.27 L853.47,411.61 L852,411.87 L850.46,412.05 L848.89,412.14 L847.32,412.14 L845.77,412.06 L844.27,411.88 L842.85,411.63 L841.53,411.3 L840.35,410.89 L839.31,410.42 L838.45,409.89 L837.76,409.32 L837.28,408.72 L836.99,408.09 L836.92,407.44 L837.05,406.8 L837.39,406.16 L837.92,405.55 L838.64,404.97 L839.54,404.43 L840.59,403.94 L841.79,403.51 L843.1,403.15 L844.51,402.86 L845.98,402.65 L847.5,402.52 L849.04,402.47 L850.58,402.51 L852.07,402.64 L853.51,402.84 L854.86,403.12 L856.11,403.48 L857.22,403.9 L858.18,404.39 L858.98,404.93 L859.59,405.51 L860,406.12 L860.22,406.75 L860.22,407.4 L860.02,408.04 L859.62,408.68ZM923.63,388.22 L922.96,388.74 L922.1,389.22 L921.09,389.65 L919.94,390.03 L918.66,390.33 L917.29,390.57 L915.85,390.73 L914.36,390.82 L912.86,390.82 L911.36,390.75 L909.9,390.59 L908.5,390.36 L907.2,390.06 L906,389.69 L904.94,389.27 L904.04,388.79 L903.3,388.27 L902.75,387.72 L902.39,387.15 L902.22,386.57 L902.25,385.98 L902.48,385.4 L902.91,384.85 L903.51,384.32 L904.29,383.82 L905.23,383.38 L906.31,382.99 L907.52,382.66 L908.82,382.4 L910.21,382.2 L911.65,382.08 L913.12,382.04 L914.59,382.08 L916.04,382.19 L917.45,382.37 L918.78,382.63 L920.03,382.95 L921.15,383.33 L922.14,383.77 L922.98,384.26 L923.65,384.79 L924.13,385.34 L924.43,385.92 L924.53,386.5 L924.43,387.09 L924.13,387.67ZM909,401.65 L908.28,402.21 L907.38,402.72 L906.32,403.18 L905.12,403.58 L903.8,403.9 L902.37,404.16 L900.88,404.33 L899.34,404.42 L897.79,404.42 L896.25,404.34 L894.75,404.17 L893.32,403.93 L891.98,403.6 L890.77,403.21 L889.69,402.76 L888.77,402.25 L888.04,401.7 L887.49,401.11 L887.13,400.5 L886.98,399.88 L887.04,399.25 L887.3,398.64 L887.76,398.04 L888.4,397.48 L889.23,396.96 L890.21,396.49 L891.34,396.07 L892.59,395.72 L893.95,395.44 L895.38,395.24 L896.87,395.11 L898.39,395.07 L899.9,395.1 L901.4,395.22 L902.84,395.42 L904.21,395.69 L905.48,396.04 L906.62,396.45 L907.63,396.92 L908.47,397.44 L909.14,398 L909.62,398.59 L909.9,399.2 L909.98,399.83 L909.86,400.45 L909.53,401.06ZM893.4,415.97 L892.64,416.56 L891.7,417.11 L890.58,417.6 L889.33,418.02 L887.95,418.37 L886.47,418.64 L884.92,418.82 L883.33,418.91 L881.73,418.92 L880.14,418.83 L878.6,418.65 L877.13,418.39 L875.76,418.04 L874.52,417.62 L873.43,417.14 L872.51,416.59 L871.76,416 L871.22,415.38 L870.88,414.72 L870.75,414.06 L870.83,413.39 L871.13,412.74 L871.62,412.1 L872.31,411.5 L873.18,410.95 L874.21,410.44 L875.4,410 L876.7,409.63 L878.11,409.33 L879.6,409.11 L881.14,408.98 L882.7,408.94 L884.27,408.98 L885.8,409.1 L887.28,409.31 L888.68,409.61 L889.98,409.98 L891.15,410.41 L892.17,410.91 L893.02,411.47 L893.69,412.07 L894.16,412.7 L894.43,413.36 L894.49,414.02 L894.34,414.69 L893.97,415.34ZM957.49,394.25 L956.84,394.79 L956.01,395.28 L955.02,395.73 L953.87,396.11 L952.6,396.43 L951.23,396.68 L949.77,396.84 L948.26,396.93 L946.73,396.93 L945.2,396.85 L943.7,396.69 L942.26,396.45 L940.9,396.14 L939.66,395.77 L938.55,395.33 L937.59,394.83 L936.79,394.3 L936.18,393.73 L935.77,393.14 L935.55,392.54 L935.53,391.94 L935.72,391.34 L936.11,390.77 L936.68,390.22 L937.43,389.71 L938.35,389.26 L939.42,388.85 L940.62,388.51 L941.93,388.24 L943.32,388.04 L944.77,387.92 L946.27,387.88 L947.77,387.91 L949.26,388.03 L950.7,388.22 L952.08,388.48 L953.37,388.82 L954.55,389.21 L955.6,389.67 L956.49,390.17 L957.21,390.71 L957.75,391.28 L958.1,391.88 L958.25,392.48 L958.2,393.09 L957.94,393.68ZM943.7,408.11 L943.02,408.68 L942.14,409.21 L941.1,409.68 L939.91,410.09 L938.59,410.43 L937.16,410.69 L935.65,410.86 L934.09,410.96 L932.51,410.96 L930.93,410.87 L929.39,410.7 L927.92,410.45 L926.53,410.11 L925.26,409.71 L924.12,409.24 L923.15,408.72 L922.35,408.14 L921.74,407.54 L921.33,406.91 L921.13,406.27 L921.14,405.62 L921.35,404.99 L921.77,404.37 L922.38,403.79 L923.18,403.26 L924.14,402.77 L925.26,402.34 L926.5,401.98 L927.86,401.69 L929.3,401.48 L930.81,401.35 L932.35,401.31 L933.9,401.34 L935.43,401.47 L936.91,401.67 L938.33,401.95 L939.65,402.31 L940.85,402.73 L941.91,403.22 L942.81,403.75 L943.54,404.33 L944.08,404.94 L944.42,405.58 L944.55,406.22 L944.48,406.87 L944.19,407.5ZM929,422.89 L928.27,423.5 L927.35,424.07 L926.26,424.57 L925.01,425.01 L923.63,425.37 L922.15,425.64 L920.58,425.83 L918.97,425.93 L917.34,425.93 L915.71,425.84 L914.12,425.65 L912.61,425.38 L911.19,425.02 L909.89,424.59 L908.74,424.09 L907.75,423.52 L906.95,422.91 L906.34,422.27 L905.94,421.59 L905.76,420.91 L905.79,420.22 L906.03,419.54 L906.48,418.89 L907.14,418.27 L907.98,417.69 L908.99,417.17 L910.16,416.72 L911.46,416.33 L912.87,416.02 L914.37,415.8 L915.92,415.66 L917.52,415.62 L919.11,415.66 L920.69,415.79 L922.21,416.01 L923.66,416.31 L925.01,416.69 L926.24,417.15 L927.32,417.66 L928.23,418.24 L928.96,418.86 L929.5,419.51 L929.83,420.19 L929.94,420.88 L929.84,421.56 L929.52,422.24Z" fill="#8da6fb" fill-rule="evenodd" stroke="#2a2f45" stroke-width="0.9" stroke-linejoin="round"/>
<path d="M890.85,382.38 L890.14,382.89 L889.27,383.35 L888.24,383.77 L887.08,384.13 L885.8,384.43 L884.44,384.66 L883.01,384.82 L881.54,384.9 L880.06,384.91 L878.59,384.83 L877.17,384.68 L875.82,384.46 L874.56,384.17 L873.41,383.81 L872.41,383.4 L871.55,382.94 L870.87,382.44 L870.37,381.9 L870.06,381.35 L869.94,380.78 L870.01,380.21 L870.29,379.65 L870.74,379.11 L871.38,378.6 L872.19,378.12 L873.15,377.69 L874.24,377.31 L875.45,376.99 L876.75,376.73 L878.13,376.54 L879.55,376.43 L881,376.39 L882.44,376.42 L883.86,376.53 L885.23,376.7 L886.52,376.95 L887.72,377.27 L888.8,377.64 L889.73,378.06 L890.52,378.54 L891.13,379.05 L891.57,379.59 L891.81,380.15 L891.86,380.71 L891.72,381.28 L891.38,381.84Z" fill="url(#gh)" stroke="#2f3550" stroke-width="1"/>
<path d="M875.43,395.41 L874.68,395.95 L873.76,396.45 L872.68,396.89 L871.47,397.28 L870.14,397.59 L868.73,397.84 L867.25,398.01 L865.73,398.09 L864.2,398.09 L862.7,398.02 L861.24,397.86 L859.85,397.62 L858.56,397.31 L857.4,396.93 L856.38,396.49 L855.52,395.99 L854.84,395.46 L854.34,394.89 L854.04,394.3 L853.94,393.7 L854.05,393.09 L854.35,392.49 L854.84,391.92 L855.52,391.37 L856.37,390.87 L857.37,390.41 L858.51,390 L859.77,389.66 L861.13,389.39 L862.55,389.19 L864.02,389.07 L865.51,389.03 L867,389.06 L868.46,389.18 L869.86,389.37 L871.18,389.63 L872.4,389.97 L873.5,390.37 L874.45,390.82 L875.24,391.32 L875.85,391.87 L876.28,392.44 L876.51,393.03 L876.54,393.64 L876.37,394.25 L875.99,394.84Z" fill="url(#gh)" stroke="#2f3550" stroke-width="1"/>
<path d="M859.01,409.29 L858.21,409.86 L857.24,410.39 L856.12,410.86 L854.85,411.27 L853.47,411.61 L852,411.87 L850.46,412.05 L848.89,412.14 L847.32,412.14 L845.77,412.06 L844.27,411.88 L842.85,411.63 L841.53,411.3 L840.35,410.89 L839.31,410.42 L838.45,409.89 L837.76,409.32 L837.28,408.72 L836.99,408.09 L836.92,407.44 L837.05,406.8 L837.39,406.16 L837.92,405.55 L838.64,404.97 L839.54,404.43 L840.59,403.94 L841.79,403.51 L843.1,403.15 L844.51,402.86 L845.98,402.65 L847.5,402.52 L849.04,402.47 L850.58,402.51 L852.07,402.64 L853.51,402.84 L854.86,403.12 L856.11,403.48 L857.22,403.9 L858.18,404.39 L858.98,404.93 L859.59,405.51 L860,406.12 L860.22,406.75 L860.22,407.4 L860.02,408.04 L859.62,408.68Z" fill="url(#gh)" stroke="#2f3550" stroke-width="1"/>
<path d="M923.63,388.22 L922.96,388.74 L922.1,389.22 L921.09,389.65 L919.94,390.03 L918.66,390.33 L917.29,390.57 L915.85,390.73 L914.36,390.82 L912.86,390.82 L911.36,390.75 L909.9,390.59 L908.5,390.36 L907.2,390.06 L906,389.69 L904.94,389.27 L904.04,388.79 L903.3,388.27 L902.75,387.72 L902.39,387.15 L902.22,386.57 L902.25,385.98 L902.48,385.4 L902.91,384.85 L903.51,384.32 L904.29,383.82 L905.23,383.38 L906.31,382.99 L907.52,382.66 L908.82,382.4 L910.21,382.2 L911.65,382.08 L913.12,382.04 L914.59,382.08 L916.04,382.19 L917.45,382.37 L918.78,382.63 L920.03,382.95 L921.15,383.33 L922.14,383.77 L922.98,384.26 L923.65,384.79 L924.13,385.34 L924.43,385.92 L924.53,386.5 L924.43,387.09 L924.13,387.67Z" fill="url(#gh)" stroke="#2f3550" stroke-width="1"/>
<path d="M909,401.65 L908.28,402.21 L907.38,402.72 L906.32,403.18 L905.12,403.58 L903.8,403.9 L902.37,404.16 L900.88,404.33 L899.34,404.42 L897.79,404.42 L896.25,404.34 L894.75,404.17 L893.32,403.93 L891.98,403.6 L890.77,403.21 L889.69,402.76 L888.77,402.25 L888.04,401.7 L887.49,401.11 L887.13,400.5 L886.98,399.88 L887.04,399.25 L887.3,398.64 L887.76,398.04 L888.4,397.48 L889.23,396.96 L890.21,396.49 L891.34,396.07 L892.59,395.72 L893.95,395.44 L895.38,395.24 L896.87,395.11 L898.39,395.07 L899.9,395.1 L901.4,395.22 L902.84,395.42 L904.21,395.69 L905.48,396.04 L906.62,396.45 L907.63,396.92 L908.47,397.44 L909.14,398 L909.62,398.59 L909.9,399.2 L909.98,399.83 L909.86,400.45 L909.53,401.06Z" fill="url(#gh)" stroke="#2f3550" stroke-width="1"/>
<path d="M893.4,415.97 L892.64,416.56 L891.7,417.11 L890.58,417.6 L889.33,418.02 L887.95,418.37 L886.47,418.64 L884.92,418.82 L883.33,418.91 L881.73,418.92 L880.14,418.83 L878.6,418.65 L877.13,418.39 L875.76,418.04 L874.52,417.62 L873.43,417.14 L872.51,416.59 L871.76,416 L871.22,415.38 L870.88,414.72 L870.75,414.06 L870.83,413.39 L871.13,412.74 L871.62,412.1 L872.31,411.5 L873.18,410.95 L874.21,410.44 L875.4,410 L876.7,409.63 L878.11,409.33 L879.6,409.11 L881.14,408.98 L882.7,408.94 L884.27,408.98 L885.8,409.1 L887.28,409.31 L888.68,409.61 L889.98,409.98 L891.15,410.41 L892.17,410.91 L893.02,411.47 L893.69,412.07 L894.16,412.7 L894.43,413.36 L894.49,414.02 L894.34,414.69 L893.97,415.34Z" fill="url(#gh)" stroke="#2f3550" stroke-width="1"/>
<path d="M957.49,394.25 L956.84,394.79 L956.01,395.28 L955.02,395.73 L953.87,396.11 L952.6,396.43 L951.23,396.68 L949.77,396.84 L948.26,396.93 L946.73,396.93 L945.2,396.85 L943.7,396.69 L942.26,396.45 L940.9,396.14 L939.66,395.77 L938.55,395.33 L937.59,394.83 L936.79,394.3 L936.18,393.73 L935.77,393.14 L935.55,392.54 L935.53,391.94 L935.72,391.34 L936.11,390.77 L936.68,390.22 L937.43,389.71 L938.35,389.26 L939.42,388.85 L940.62,388.51 L941.93,388.24 L943.32,388.04 L944.77,387.92 L946.27,387.88 L947.77,387.91 L949.26,388.03 L950.7,388.22 L952.08,388.48 L953.37,388.82 L954.55,389.21 L955.6,389.67 L956.49,390.17 L957.21,390.71 L957.75,391.28 L958.1,391.88 L958.25,392.48 L958.2,393.09 L957.94,393.68Z" fill="url(#gh)" stroke="#2f3550" stroke-width="1"/>
<path d="M943.7,408.11 L943.02,408.68 L942.14,409.21 L941.1,409.68 L939.91,410.09 L938.59,410.43 L937.16,410.69 L935.65,410.86 L934.09,410.96 L932.51,410.96 L930.93,410.87 L929.39,410.7 L927.92,410.45 L926.53,410.11 L925.26,409.71 L924.12,409.24 L923.15,408.72 L922.35,408.14 L921.74,407.54 L921.33,406.91 L921.13,406.27 L921.14,405.62 L921.35,404.99 L921.77,404.37 L922.38,403.79 L923.18,403.26 L924.14,402.77 L925.26,402.34 L926.5,401.98 L927.86,401.69 L929.3,401.48 L930.81,401.35 L932.35,401.31 L933.9,401.34 L935.43,401.47 L936.91,401.67 L938.33,401.95 L939.65,402.31 L940.85,402.73 L941.91,403.22 L942.81,403.75 L943.54,404.33 L944.08,404.94 L944.42,405.58 L944.55,406.22 L944.48,406.87 L944.19,407.5Z" fill="url(#gh)" stroke="#2f3550" stroke-width="1"/>
<path d="M929,422.89 L928.27,423.5 L927.35,424.07 L926.26,424.57 L925.01,425.01 L923.63,425.37 L922.15,425.64 L920.58,425.83 L918.97,425.93 L917.34,425.93 L915.71,425.84 L914.12,425.65 L912.61,425.38 L911.19,425.02 L909.89,424.59 L908.74,424.09 L907.75,423.52 L906.95,422.91 L906.34,422.27 L905.94,421.59 L905.76,420.91 L905.79,420.22 L906.03,419.54 L906.48,418.89 L907.14,418.27 L907.98,417.69 L908.99,417.17 L910.16,416.72 L911.46,416.33 L912.87,416.02 L914.37,415.8 L915.92,415.66 L917.52,415.62 L919.11,415.66 L920.69,415.79 L922.21,416.01 L923.66,416.31 L925.01,416.69 L926.24,417.15 L927.32,417.66 L928.23,418.24 L928.96,418.86 L929.5,419.51 L929.83,420.19 L929.94,420.88 L929.84,421.56 L929.52,422.24Z" fill="url(#gh)" stroke="#2f3550" stroke-width="1"/>
</svg>
</body></html>
